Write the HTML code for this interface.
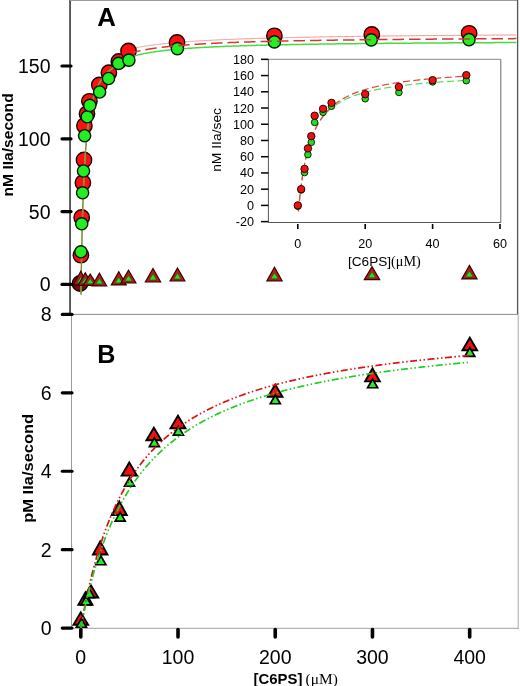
<!DOCTYPE html>
<html><head><meta charset="utf-8"><title>Figure</title><style>html,body{margin:0;padding:0;background:#fff;width:520px;height:686px;overflow:hidden;}</style></head><body>
<svg width="520" height="686" viewBox="0 0 520 686" font-family="&quot;Liberation Sans&quot;, sans-serif" style="display:block;will-change:transform">
<defs><clipPath id="ca"><rect x="70" y="0" width="448" height="314.4"/></clipPath><clipPath id="cah"><rect x="133" y="0" width="385" height="314.4"/></clipPath><clipPath id="cb"><rect x="71" y="314.4" width="447" height="314"/></clipPath><clipPath id="ci"><rect x="268.4" y="59.3" width="232.4" height="163.2"/></clipPath></defs>
<line x1="70.05" y1="0" x2="70.05" y2="314.5" stroke="#2a2a2a" stroke-width="1.5"/>
<line x1="70" y1="0.5" x2="518" y2="0.5" stroke="#9a9a9a" stroke-width="1"/>
<line x1="517.6" y1="0" x2="517.6" y2="314.5" stroke="#555" stroke-width="1.3"/>
<line x1="70" y1="314.4" x2="518" y2="314.4" stroke="#8a8a8a" stroke-width="1"/>
<line x1="71.5" y1="314.4" x2="71.5" y2="628.3" stroke="#9a9a9a" stroke-width="1"/>
<line x1="71.5" y1="628.3" x2="518.7" y2="628.3" stroke="#a0a0a0" stroke-width="1"/>
<line x1="518.2" y1="314.4" x2="518.2" y2="628.8" stroke="#a8a8a8" stroke-width="1"/>
<g clip-path="url(#ca)">
<path d="M80.97,292.06 L80.97,292.06 L80.98,292.06 L80.98,292.06 L80.98,292.06 L80.98,292.05 L80.98,292.05 L80.98,292.04 L80.98,292.03 L80.98,292.02 L80.98,292.00 L80.98,291.98 L80.98,291.96 L80.98,291.93 L80.98,291.90 L80.98,291.86 L80.98,291.82 L80.98,291.77 L80.98,291.72 L80.98,291.66 L80.98,291.59 L80.98,291.52 L80.98,291.43 L80.99,291.34 L80.99,291.25 L80.99,291.14 L80.99,291.03 L80.99,290.90 L80.99,290.77 L81.00,290.63 L81.00,290.48 L81.00,290.31 L81.00,290.14 L81.01,289.96 L81.01,289.76 L81.01,289.55 L81.01,289.34 L81.02,289.11 L81.02,288.86 L81.03,288.61 L81.03,288.34 L81.03,288.06 L81.04,287.76 L81.04,287.45 L81.05,287.13 L81.05,286.79 L81.06,286.44 L81.06,286.07 L81.07,285.69 L81.08,285.30 L81.08,284.89 L81.09,284.46 L81.09,284.02 L81.10,283.56 L81.11,283.09 L81.12,282.60 L81.12,282.09 L81.13,281.57 L81.14,281.03 L81.15,280.48 L81.16,279.90 L81.17,279.32 L81.18,278.71 L81.19,278.09 L81.20,277.45 L81.21,276.80 L81.22,276.12 L81.23,275.44 L81.24,274.73 L81.25,274.01 L81.27,273.27 L81.28,272.51 L81.29,271.74 L81.31,270.95 L81.32,270.14 L81.33,269.32 L81.35,268.48 L81.36,267.63 L81.38,266.76 L81.39,265.87 L81.41,264.97 L81.43,264.05 L81.44,263.11 L81.46,262.16 L81.48,261.20 L81.50,260.22 L81.52,259.22 L81.53,258.22 L81.55,257.19 L81.57,256.15 L81.59,255.10 L81.62,254.04 L81.64,252.96 L81.66,251.87 L81.68,250.77 L81.70,249.65 L81.73,248.52 L81.75,247.38 L81.78,246.23 L81.80,245.07 L81.83,243.89 L81.85,242.71 L81.88,241.51 L81.90,240.31 L81.93,239.09 L81.96,237.87 L81.99,236.64 L82.02,235.40 L82.05,234.15 L82.08,232.89 L82.11,231.63 L82.14,230.35 L82.17,229.08 L82.20,227.79 L82.23,226.50 L82.27,225.20 L82.30,223.90 L82.34,222.60 L82.37,221.28 L82.41,219.97 L82.44,218.65 L82.48,217.33 L82.52,216.00 L82.56,214.67 L82.60,213.34 L82.64,212.01 L82.68,210.67 L82.72,209.34 L82.76,208.00 L82.80,206.66 L82.84,205.32 L82.89,203.98 L82.93,202.65 L82.98,201.31 L83.02,199.97 L83.07,198.63 L83.11,197.30 L83.16,195.96 L83.21,194.63 L83.26,193.30 L83.31,191.98 L83.36,190.65 L83.41,189.33 L83.46,188.02 L83.51,186.70 L83.57,185.39 L83.62,184.08 L83.68,182.78 L83.73,181.49 L83.79,180.19 L83.84,178.90 L83.90,177.62 L83.96,176.34 L84.02,175.07 L84.08,173.80 L84.14,172.54 L84.20,171.29 L84.27,170.04 L84.33,168.80 L84.39,167.56 L84.46,166.33 L84.52,165.11 L84.59,163.89 L84.66,162.69 L84.73,161.48 L84.79,160.29 L84.86,159.10 L84.94,157.92 L85.01,156.75 L85.08,155.59 L85.15,154.43 L85.23,153.28 L85.30,152.14 L85.38,151.01 L85.45,149.88 L85.53,148.77 L85.61,147.66 L85.69,146.56 L85.77,145.46 L85.85,144.38 L85.93,143.30 L86.02,142.24 L86.10,141.18 L86.19,140.13 L86.27,139.09 L86.36,138.05 L86.45,137.03 L86.54,136.01 L86.63,135.00 L86.72,134.00 L86.81,133.01 L86.90,132.03 L86.99,131.06 L87.09,130.09 L87.18,129.13 L87.28,128.19 L87.38,127.25 L87.48,126.32 L87.58,125.39 L87.68,124.48 L87.78,123.57 L87.88,122.67 L87.98,121.78 L88.09,120.90 L88.19,120.03 L88.30,119.17 L88.41,118.31 L88.52,117.46 L88.63,116.62 L88.74,115.79 L88.85,114.97 L88.96,114.15 L89.08,113.34 L89.19,112.54 L89.31,111.75 L89.43,110.97 L89.54,110.19 L89.66,109.42 L89.78,108.66 L89.91,107.91 L90.03,107.16 L90.15,106.43 L90.28,105.70 L90.40,104.97 L90.53,104.26 L90.66,103.55 L90.79,102.85 L90.92,102.15 L91.05,101.47 L91.19,100.79 L91.32,100.11 L91.46,99.45 L91.59,98.79 L91.73,98.14 L91.87,97.49 L92.01,96.85 L92.15,96.22 L92.29,95.60 L92.44,94.98 L92.58,94.37 L92.73,93.76 L92.88,93.16 L93.03,92.57 L93.18,91.98 L93.33,91.40 L93.48,90.83 L93.63,90.26 L93.79,89.70 L93.95,89.14 L94.10,88.59 L94.26,88.05 L94.42,87.51 L94.58,86.97 L94.75,86.45 L94.91,85.93 L95.07,85.41 L95.24,84.90 L95.41,84.39 L95.58,83.89 L95.75,83.40 L95.92,82.91 L96.09,82.43 L96.27,81.95 L96.44,81.47 L96.62,81.01 L96.80,80.54 L96.98,80.08 L97.16,79.63 L97.34,79.18 L97.53,78.74 L97.71,78.30 L97.90,77.86 L98.09,77.43 L98.28,77.01 L98.47,76.59 L98.66,76.17 L98.85,75.76 L99.05,75.35 L99.24,74.95 L99.44,74.55 L99.64,74.15 L99.84,73.76 L100.04,73.38 L100.25,72.99 L100.45,72.62 L100.66,72.24 L100.87,71.87 L101.08,71.50 L101.29,71.14 L101.50,70.78 L101.71,70.43 L101.93,70.08 L102.15,69.73 L102.36,69.39 L102.58,69.05 L102.81,68.71 L103.03,68.38 L103.25,68.05 L103.48,67.72 L103.71,67.40 L103.93,67.08 L104.16,66.76 L104.40,66.45 L104.63,66.14 L104.86,65.83 L105.10,65.53 L105.34,65.23 L105.58,64.93 L105.82,64.64 L106.06,64.35 L106.31,64.06 L106.55,63.78 L106.80,63.50 L107.05,63.22 L107.30,62.94 L107.55,62.67 L107.81,62.40 L108.06,62.13 L108.32,61.87 L108.58,61.60 L108.84,61.35 L109.10,61.09 L109.36,60.83 L109.63,60.58 L109.90,60.33 L110.17,60.09 L110.44,59.84 L110.71,59.60 L110.98,59.36 L111.26,59.13 L111.53,58.89 L111.81,58.66 L112.09,58.43 L112.37,58.20 L112.66,57.98 L112.94,57.76 L113.23,57.54 L113.52,57.32 L113.81,57.10 L114.10,56.89 L114.40,56.68 L114.69,56.47 L114.99,56.26 L115.29,56.05 L115.59,55.84 L115.89,55.63 L116.20,55.42 L116.50,55.21 L116.81,55.01 L117.12,54.80 L117.43,54.59 L117.75,54.39 L118.06,54.19 L118.38,53.98 L118.70,53.78 L119.02,53.59 L119.34,53.39 L119.66,53.20 L119.99,53.01 L120.32,52.82 L120.65,52.63 L120.98,52.45 L121.31,52.27 L121.65,52.09 L121.99,51.91 L122.32,51.74 L122.67,51.57 L123.01,51.41 L123.35,51.25 L123.70,51.09 L124.05,50.94 L124.40,50.78 L124.75,50.64 L125.10,50.49 L125.46,50.35 L125.82,50.21 L126.18,50.08 L126.54,49.95 L126.90,49.82 L127.27,49.70 L127.63,49.58 L128.00,49.46 L128.38,49.35 L128.75,49.24 L129.12,49.13 L129.50,49.03 L129.88,48.93 L130.26,48.83 L130.64,48.74 L131.03,48.64 L131.42,48.55 L131.80,48.47 L132.20,48.38 L132.59,48.30 L132.98,48.22 L133.38,48.14 L133.78,48.06 L134.18,47.99 L134.58,47.91 L134.99,47.84 L135.40,47.76 L135.81,47.69 L136.22,47.62 L136.63,47.55 L137.05,47.48 L137.46,47.41 L137.88,47.33 L138.30,47.26 L138.73,47.19 L139.15,47.11 L139.58,47.04 L140.01,46.96 L140.44,46.89 L140.88,46.81 L141.31,46.74 L141.75,46.67 L142.19,46.59 L142.63,46.52 L143.08,46.45 L143.53,46.38 L143.97,46.30 L144.43,46.23 L144.88,46.16 L145.33,46.09 L145.79,46.02 L146.25,45.95 L146.71,45.88 L147.18,45.81 L147.64,45.74 L148.11,45.68 L148.58,45.61 L149.06,45.54 L149.53,45.47 L150.01,45.41 L150.49,45.34 L150.97,45.28 L151.45,45.21 L151.94,45.14 L152.43,45.08 L152.92,45.01 L153.41,44.95 L153.90,44.89 L154.40,44.82 L154.90,44.76 L155.40,44.70 L155.91,44.64 L156.41,44.57 L156.92,44.51 L157.43,44.45 L157.95,44.39 L158.46,44.33 L158.98,44.27 L159.50,44.21 L160.02,44.15 L160.55,44.09 L161.07,44.03 L161.60,43.97 L162.13,43.91 L162.67,43.85 L163.20,43.80 L163.74,43.74 L164.28,43.68 L164.83,43.63 L165.37,43.57 L165.92,43.51 L166.47,43.46 L167.02,43.40 L167.58,43.35 L168.14,43.29 L168.70,43.24 L169.26,43.18 L169.82,43.13 L170.39,43.07 L170.96,43.02 L171.53,42.97 L172.11,42.92 L172.68,42.86 L173.26,42.81 L173.84,42.76 L174.43,42.71 L175.02,42.66 L175.60,42.61 L176.20,42.55 L176.79,42.50 L177.39,42.45 L177.98,42.40 L178.59,42.35 L179.19,42.31 L179.80,42.26 L180.40,42.21 L181.02,42.16 L181.63,42.11 L182.25,42.06 L182.86,42.02 L183.49,41.97 L184.11,41.92 L184.74,41.87 L185.36,41.83 L186.00,41.78 L186.63,41.73 L187.27,41.69 L187.91,41.64 L188.55,41.60 L189.19,41.55 L189.84,41.51 L190.49,41.46 L191.14,41.42 L191.79,41.38 L192.45,41.33 L193.11,41.29 L193.77,41.24 L194.44,41.20 L195.10,41.16 L195.77,41.12 L196.45,41.07 L197.12,41.03 L197.80,40.99 L198.48,40.95 L199.16,40.91 L199.85,40.87 L200.54,40.83 L201.23,40.78 L201.92,40.74 L202.62,40.70 L203.32,40.66 L204.02,40.62 L204.73,40.58 L205.43,40.55 L206.14,40.51 L206.85,40.47 L207.57,40.43 L208.29,40.39 L209.01,40.35 L209.73,40.31 L210.46,40.28 L211.19,40.24 L211.92,40.20 L212.65,40.16 L213.39,40.13 L214.13,40.09 L214.87,40.05 L215.62,40.02 L216.37,39.98 L217.12,39.95 L217.87,39.91 L218.63,39.87 L219.38,39.84 L220.15,39.80 L220.91,39.77 L221.68,39.73 L222.45,39.70 L223.22,39.66 L224.00,39.63 L224.78,39.60 L225.56,39.56 L226.34,39.53 L227.13,39.50 L227.92,39.46 L228.71,39.43 L229.51,39.40 L230.31,39.36 L231.11,39.33 L231.91,39.30 L232.72,39.27 L233.53,39.24 L234.34,39.20 L235.16,39.17 L235.98,39.14 L236.80,39.11 L237.62,39.08 L238.45,39.05 L239.28,39.02 L240.11,38.99 L240.95,38.96 L241.79,38.93 L242.63,38.90 L243.48,38.87 L244.32,38.84 L245.17,38.81 L246.03,38.78 L246.89,38.75 L247.74,38.72 L248.61,38.69 L249.47,38.66 L250.34,38.63 L251.21,38.60 L252.09,38.58 L252.97,38.55 L253.85,38.52 L254.73,38.49 L255.62,38.46 L256.51,38.44 L257.40,38.41 L258.29,38.38 L259.19,38.35 L260.09,38.33 L261.00,38.30 L261.91,38.27 L262.82,38.25 L263.73,38.22 L264.65,38.19 L265.57,38.17 L266.49,38.14 L267.42,38.12 L268.34,38.09 L269.28,38.07 L270.21,38.04 L271.15,38.02 L272.09,37.99 L273.04,37.97 L273.98,37.94 L274.94,37.92 L275.89,37.89 L276.85,37.87 L277.81,37.84 L278.77,37.82 L279.74,37.79 L280.71,37.77 L281.68,37.75 L282.65,37.72 L283.63,37.70 L284.62,37.68 L285.60,37.65 L286.59,37.63 L287.58,37.61 L288.58,37.58 L289.57,37.56 L290.58,37.54 L291.58,37.52 L292.59,37.49 L293.60,37.47 L294.61,37.45 L295.63,37.43 L296.65,37.40 L297.67,37.38 L298.70,37.36 L299.73,37.34 L300.76,37.32 L301.80,37.30 L302.84,37.28 L303.88,37.25 L304.93,37.23 L305.98,37.21 L307.03,37.19 L308.09,37.17 L309.15,37.15 L310.21,37.13 L311.28,37.11 L312.35,37.09 L313.42,37.07 L314.50,37.05 L315.58,37.03 L316.66,37.01 L317.75,36.99 L318.84,36.97 L319.93,36.95 L321.02,36.93 L322.12,36.91 L323.23,36.89 L324.33,36.87 L325.44,36.85 L326.56,36.83 L327.67,36.82 L328.79,36.80 L329.91,36.78 L331.04,36.76 L332.17,36.74 L333.30,36.72 L334.44,36.70 L335.58,36.69 L336.72,36.67 L337.87,36.65 L339.02,36.63 L340.17,36.61 L341.33,36.60 L342.49,36.58 L343.66,36.56 L344.82,36.54 L345.99,36.53 L347.17,36.51 L348.35,36.49 L349.53,36.48 L350.71,36.46 L351.90,36.44 L353.09,36.42 L354.29,36.41 L355.49,36.39 L356.69,36.37 L357.90,36.36 L359.10,36.34 L360.32,36.33 L361.53,36.31 L362.75,36.29 L363.98,36.28 L365.20,36.26 L366.43,36.25 L367.67,36.23 L368.91,36.21 L370.15,36.20 L371.39,36.18 L372.64,36.17 L373.89,36.15 L375.15,36.14 L376.41,36.12 L377.67,36.11 L378.93,36.09 L380.20,36.08 L381.48,36.06 L382.75,36.05 L384.03,36.03 L385.32,36.02 L386.61,36.00 L387.90,35.99 L389.19,35.97 L390.49,35.96 L391.79,35.94 L393.10,35.93 L394.41,35.91 L395.72,35.90 L397.04,35.89 L398.36,35.87 L399.68,35.86 L401.01,35.84 L402.34,35.83 L403.68,35.82 L405.02,35.80 L406.36,35.79 L407.71,35.78 L409.06,35.76 L410.41,35.75 L411.77,35.74 L413.13,35.72 L414.50,35.71 L415.86,35.70 L417.24,35.68 L418.61,35.67 L419.99,35.66 L421.38,35.64 L422.76,35.63 L424.16,35.62 L425.55,35.60 L426.95,35.59 L428.35,35.58 L429.76,35.57 L431.17,35.55 L432.58,35.54 L434.00,35.53 L435.42,35.52 L436.85,35.51 L438.28,35.49 L439.71,35.48 L441.15,35.47 L442.59,35.46 L444.03,35.44 L445.48,35.43 L446.93,35.42 L448.39,35.41 L449.85,35.40 L451.31,35.39 L452.78,35.37 L454.25,35.36 L455.73,35.35 L457.21,35.34 L458.69,35.33 L460.18,35.32 L461.67,35.31 L463.16,35.29 L464.66,35.28 L466.16,35.27 L467.67,35.26 L469.18,35.25 L470.69,35.24 L472.21,35.23 L473.74,35.22 L475.26,35.21 L476.79,35.20 L478.33,35.18 L479.86,35.17 L481.41,35.16 L482.95,35.15 L484.50,35.14 L486.06,35.13 L487.61,35.12 L489.18,35.11 L490.74,35.10 L492.31,35.09 L493.89,35.08 L495.46,35.07 L497.05,35.06 L498.63,35.05 L500.22,35.04 L501.82,35.03 L503.41,35.02 L505.02,35.01 L506.62,35.00 L508.23,34.99 L509.85,34.98 L511.47,34.97 L513.09,34.96 L514.72,34.95 L516.35,34.94" fill="none" stroke="#f09090" stroke-width="1.0" clip-path="url(#cah)"/>
<circle cx="80.0" cy="283.5" r="7.7" fill="#6a1010" stroke="#1a0000" stroke-width="1.4"/>
<circle cx="80.9" cy="255.2" r="7.7" fill="#ff1010" stroke="#1a0000" stroke-width="1.4"/>
<circle cx="81.7" cy="217.4" r="7.7" fill="#ff1010" stroke="#1a0000" stroke-width="1.4"/>
<circle cx="82.9" cy="182.8" r="7.7" fill="#ff1010" stroke="#1a0000" stroke-width="1.4"/>
<circle cx="84.0" cy="160.0" r="7.7" fill="#ff1010" stroke="#1a0000" stroke-width="1.4"/>
<circle cx="84.4" cy="125.7" r="7.7" fill="#ff1010" stroke="#1a0000" stroke-width="1.4"/>
<circle cx="87.0" cy="113.8" r="7.7" fill="#ff1010" stroke="#1a0000" stroke-width="1.4"/>
<circle cx="89.4" cy="101.3" r="7.7" fill="#ff1010" stroke="#1a0000" stroke-width="1.4"/>
<circle cx="99.3" cy="85.0" r="7.7" fill="#ff1010" stroke="#1a0000" stroke-width="1.4"/>
<circle cx="108.9" cy="72.7" r="7.7" fill="#ff1010" stroke="#1a0000" stroke-width="1.4"/>
<circle cx="118.8" cy="61.4" r="7.7" fill="#ff1010" stroke="#1a0000" stroke-width="1.4"/>
<circle cx="128.5" cy="51.0" r="7.7" fill="#ff1010" stroke="#1a0000" stroke-width="1.4"/>
<circle cx="177.0" cy="42.4" r="7.7" fill="#ff1010" stroke="#1a0000" stroke-width="1.4"/>
<circle cx="274.4" cy="35.8" r="7.7" fill="#ff1010" stroke="#1a0000" stroke-width="1.4"/>
<circle cx="371.8" cy="34.5" r="7.7" fill="#ff1010" stroke="#1a0000" stroke-width="1.4"/>
<circle cx="469.1" cy="33.3" r="7.7" fill="#ff1010" stroke="#1a0000" stroke-width="1.4"/>
<path d="M80.97,294.61 L80.97,294.61 L80.98,294.61 L80.98,294.61 L80.98,294.61 L80.98,294.61 L80.98,294.60 L80.98,294.59 L80.98,294.58 L80.98,294.57 L80.98,294.55 L80.98,294.53 L80.98,294.51 L80.98,294.48 L80.98,294.44 L80.98,294.40 L80.98,294.36 L80.98,294.31 L80.98,294.25 L80.98,294.19 L80.98,294.12 L80.98,294.04 L80.98,293.95 L80.99,293.86 L80.99,293.76 L80.99,293.65 L80.99,293.52 L80.99,293.39 L80.99,293.25 L81.00,293.10 L81.00,292.94 L81.00,292.77 L81.00,292.59 L81.01,292.40 L81.01,292.19 L81.01,291.97 L81.01,291.74 L81.02,291.50 L81.02,291.24 L81.03,290.97 L81.03,290.69 L81.03,290.39 L81.04,290.08 L81.04,289.76 L81.05,289.42 L81.05,289.07 L81.06,288.70 L81.06,288.31 L81.07,287.91 L81.08,287.50 L81.08,287.06 L81.09,286.62 L81.09,286.15 L81.10,285.67 L81.11,285.18 L81.12,284.67 L81.12,284.14 L81.13,283.59 L81.14,283.03 L81.15,282.45 L81.16,281.85 L81.17,281.23 L81.18,280.60 L81.19,279.95 L81.20,279.29 L81.21,278.60 L81.22,277.90 L81.23,277.19 L81.24,276.45 L81.25,275.70 L81.27,274.93 L81.28,274.15 L81.29,273.34 L81.31,272.52 L81.32,271.69 L81.33,270.83 L81.35,269.96 L81.36,269.08 L81.38,268.18 L81.39,267.26 L81.41,266.33 L81.43,265.38 L81.44,264.41 L81.46,263.43 L81.48,262.44 L81.50,261.43 L81.52,260.41 L81.53,259.37 L81.55,258.32 L81.57,257.25 L81.59,256.17 L81.62,255.08 L81.64,253.98 L81.66,252.86 L81.68,251.73 L81.70,250.59 L81.73,249.44 L81.75,248.28 L81.78,247.10 L81.80,245.92 L81.83,244.72 L81.85,243.52 L81.88,242.31 L81.90,241.08 L81.93,239.85 L81.96,238.61 L81.99,237.37 L82.02,236.11 L82.05,234.85 L82.08,233.58 L82.11,232.31 L82.14,231.03 L82.17,229.74 L82.20,228.45 L82.23,227.15 L82.27,225.85 L82.30,224.55 L82.34,223.24 L82.37,221.93 L82.41,220.62 L82.44,219.30 L82.48,217.98 L82.52,216.66 L82.56,215.34 L82.60,214.01 L82.64,212.69 L82.68,211.36 L82.72,210.04 L82.76,208.72 L82.80,207.39 L82.84,206.07 L82.89,204.75 L82.93,203.43 L82.98,202.11 L83.02,200.79 L83.07,199.48 L83.11,198.16 L83.16,196.86 L83.21,195.55 L83.26,194.25 L83.31,192.95 L83.36,191.66 L83.41,190.37 L83.46,189.08 L83.51,187.80 L83.57,186.52 L83.62,185.25 L83.68,183.99 L83.73,182.73 L83.79,181.47 L83.84,180.23 L83.90,178.98 L83.96,177.75 L84.02,176.52 L84.08,175.30 L84.14,174.08 L84.20,172.87 L84.27,171.67 L84.33,170.47 L84.39,169.28 L84.46,168.10 L84.52,166.93 L84.59,165.77 L84.66,164.61 L84.73,163.46 L84.79,162.32 L84.86,161.18 L84.94,160.06 L85.01,158.94 L85.08,157.83 L85.15,156.73 L85.23,155.64 L85.30,154.55 L85.38,153.48 L85.45,152.41 L85.53,151.35 L85.61,150.30 L85.69,149.26 L85.77,148.23 L85.85,147.21 L85.93,146.19 L86.02,145.18 L86.10,144.19 L86.19,143.20 L86.27,142.22 L86.36,141.24 L86.45,140.28 L86.54,139.33 L86.63,138.38 L86.72,137.44 L86.81,136.51 L86.90,135.59 L86.99,134.68 L87.09,133.78 L87.18,132.89 L87.28,132.00 L87.38,131.12 L87.48,130.26 L87.58,129.40 L87.68,128.55 L87.78,127.70 L87.88,126.87 L87.98,126.04 L88.09,125.22 L88.19,124.41 L88.30,123.61 L88.41,122.82 L88.52,122.03 L88.63,121.25 L88.74,120.48 L88.85,119.72 L88.96,118.97 L89.08,118.22 L89.19,117.48 L89.31,116.75 L89.43,116.03 L89.54,115.32 L89.66,114.61 L89.78,113.91 L89.91,113.22 L90.03,112.53 L90.15,111.85 L90.28,111.18 L90.40,110.52 L90.53,109.86 L90.66,109.21 L90.79,108.57 L90.92,107.93 L91.05,107.30 L91.19,106.68 L91.32,106.06 L91.46,105.46 L91.59,104.85 L91.73,104.26 L91.87,103.67 L92.01,103.09 L92.15,102.51 L92.29,101.94 L92.44,101.38 L92.58,100.82 L92.73,100.27 L92.88,99.72 L93.03,99.18 L93.18,98.65 L93.33,98.12 L93.48,97.60 L93.63,97.08 L93.79,96.57 L93.95,96.07 L94.10,95.57 L94.26,95.07 L94.42,94.59 L94.58,94.10 L94.75,93.63 L94.91,93.15 L95.07,92.69 L95.24,92.22 L95.41,91.77 L95.58,91.31 L95.75,90.87 L95.92,90.43 L96.09,89.99 L96.27,89.56 L96.44,89.13 L96.62,88.71 L96.80,88.29 L96.98,87.87 L97.16,87.47 L97.34,87.06 L97.53,86.66 L97.71,86.26 L97.90,85.87 L98.09,85.49 L98.28,85.10 L98.47,84.72 L98.66,84.35 L98.85,83.98 L99.05,83.61 L99.24,83.25 L99.44,82.89 L99.64,82.54 L99.84,82.19 L100.04,81.84 L100.25,81.50 L100.45,81.16 L100.66,80.82 L100.87,80.49 L101.08,80.16 L101.29,79.84 L101.50,79.52 L101.71,79.20 L101.93,78.88 L102.15,78.57 L102.36,78.27 L102.58,77.96 L102.81,77.66 L103.03,77.36 L103.25,77.07 L103.48,76.78 L103.71,76.49 L103.93,76.20 L104.16,75.92 L104.40,75.64 L104.63,75.37 L104.86,75.09 L105.10,74.82 L105.34,74.55 L105.58,74.29 L105.82,74.03 L106.06,73.77 L106.31,73.51 L106.55,73.26 L106.80,73.01 L107.05,72.76 L107.30,72.51 L107.55,72.27 L107.81,72.03 L108.06,71.79 L108.32,71.56 L108.58,71.32 L108.84,71.09 L109.10,70.86 L109.36,70.64 L109.63,70.41 L109.90,70.19 L110.17,69.97 L110.44,69.76 L110.71,69.54 L110.98,69.33 L111.26,69.12 L111.53,68.91 L111.81,68.71 L112.09,68.50 L112.37,68.30 L112.66,68.10 L112.94,67.90 L113.23,67.71 L113.52,67.51 L113.81,67.32 L114.10,67.13 L114.40,66.94 L114.69,66.76 L114.99,66.57 L115.29,66.39 L115.59,66.20 L115.89,66.02 L116.20,65.83 L116.50,65.65 L116.81,65.46 L117.12,65.27 L117.43,65.08 L117.75,64.90 L118.06,64.71 L118.38,64.52 L118.70,64.33 L119.02,64.14 L119.34,63.95 L119.66,63.75 L119.99,63.56 L120.32,63.37 L120.65,63.18 L120.98,62.98 L121.31,62.79 L121.65,62.59 L121.99,62.40 L122.32,62.20 L122.67,62.01 L123.01,61.81 L123.35,61.62 L123.70,61.42 L124.05,61.22 L124.40,61.03 L124.75,60.83 L125.10,60.64 L125.46,60.44 L125.82,60.24 L126.18,60.05 L126.54,59.86 L126.90,59.66 L127.27,59.47 L127.63,59.28 L128.00,59.08 L128.38,58.89 L128.75,58.70 L129.12,58.52 L129.50,58.33 L129.88,58.14 L130.26,57.96 L130.64,57.78 L131.03,57.60 L131.42,57.42 L131.80,57.25 L132.20,57.07 L132.59,56.90 L132.98,56.73 L133.38,56.57 L133.78,56.41 L134.18,56.25 L134.58,56.09 L134.99,55.94 L135.40,55.79 L135.81,55.65 L136.22,55.51 L136.63,55.38 L137.05,55.25 L137.46,55.12 L137.88,55.00 L138.30,54.89 L138.73,54.78 L139.15,54.67 L139.58,54.58 L140.01,54.48 L140.44,54.38 L140.88,54.28 L141.31,54.19 L141.75,54.09 L142.19,54.00 L142.63,53.91 L143.08,53.81 L143.53,53.72 L143.97,53.63 L144.43,53.54 L144.88,53.45 L145.33,53.36 L145.79,53.28 L146.25,53.19 L146.71,53.10 L147.18,53.02 L147.64,52.93 L148.11,52.85 L148.58,52.77 L149.06,52.69 L149.53,52.61 L150.01,52.52 L150.49,52.44 L150.97,52.37 L151.45,52.29 L151.94,52.21 L152.43,52.13 L152.92,52.06 L153.41,51.98 L153.90,51.90 L154.40,51.83 L154.90,51.76 L155.40,51.68 L155.91,51.61 L156.41,51.54 L156.92,51.47 L157.43,51.40 L157.95,51.33 L158.46,51.26 L158.98,51.19 L159.50,51.12 L160.02,51.05 L160.55,50.98 L161.07,50.92 L161.60,50.85 L162.13,50.78 L162.67,50.72 L163.20,50.66 L163.74,50.59 L164.28,50.53 L164.83,50.47 L165.37,50.40 L165.92,50.34 L166.47,50.28 L167.02,50.22 L167.58,50.16 L168.14,50.10 L168.70,50.04 L169.26,49.98 L169.82,49.92 L170.39,49.86 L170.96,49.81 L171.53,49.75 L172.11,49.69 L172.68,49.64 L173.26,49.58 L173.84,49.53 L174.43,49.47 L175.02,49.42 L175.60,49.36 L176.20,49.31 L176.79,49.26 L177.39,49.20 L177.98,49.15 L178.59,49.10 L179.19,49.05 L179.80,49.00 L180.40,48.95 L181.02,48.90 L181.63,48.85 L182.25,48.80 L182.86,48.75 L183.49,48.70 L184.11,48.65 L184.74,48.61 L185.36,48.56 L186.00,48.51 L186.63,48.47 L187.27,48.42 L187.91,48.37 L188.55,48.33 L189.19,48.28 L189.84,48.24 L190.49,48.19 L191.14,48.15 L191.79,48.10 L192.45,48.06 L193.11,48.02 L193.77,47.97 L194.44,47.93 L195.10,47.89 L195.77,47.85 L196.45,47.81 L197.12,47.77 L197.80,47.72 L198.48,47.68 L199.16,47.64 L199.85,47.60 L200.54,47.56 L201.23,47.52 L201.92,47.48 L202.62,47.45 L203.32,47.41 L204.02,47.37 L204.73,47.33 L205.43,47.29 L206.14,47.26 L206.85,47.22 L207.57,47.18 L208.29,47.15 L209.01,47.11 L209.73,47.07 L210.46,47.04 L211.19,47.00 L211.92,46.97 L212.65,46.93 L213.39,46.90 L214.13,46.86 L214.87,46.83 L215.62,46.79 L216.37,46.76 L217.12,46.73 L217.87,46.69 L218.63,46.66 L219.38,46.63 L220.15,46.59 L220.91,46.56 L221.68,46.53 L222.45,46.50 L223.22,46.47 L224.00,46.43 L224.78,46.40 L225.56,46.37 L226.34,46.34 L227.13,46.31 L227.92,46.28 L228.71,46.25 L229.51,46.22 L230.31,46.19 L231.11,46.16 L231.91,46.13 L232.72,46.10 L233.53,46.07 L234.34,46.04 L235.16,46.02 L235.98,45.99 L236.80,45.96 L237.62,45.93 L238.45,45.90 L239.28,45.88 L240.11,45.85 L240.95,45.82 L241.79,45.80 L242.63,45.77 L243.48,45.74 L244.32,45.72 L245.17,45.69 L246.03,45.66 L246.89,45.64 L247.74,45.61 L248.61,45.59 L249.47,45.56 L250.34,45.53 L251.21,45.51 L252.09,45.48 L252.97,45.46 L253.85,45.44 L254.73,45.41 L255.62,45.39 L256.51,45.36 L257.40,45.34 L258.29,45.32 L259.19,45.29 L260.09,45.27 L261.00,45.24 L261.91,45.22 L262.82,45.20 L263.73,45.18 L264.65,45.15 L265.57,45.13 L266.49,45.11 L267.42,45.09 L268.34,45.06 L269.28,45.04 L270.21,45.02 L271.15,45.00 L272.09,44.98 L273.04,44.96 L273.98,44.93 L274.94,44.91 L275.89,44.89 L276.85,44.87 L277.81,44.85 L278.77,44.83 L279.74,44.81 L280.71,44.79 L281.68,44.77 L282.65,44.75 L283.63,44.73 L284.62,44.71 L285.60,44.69 L286.59,44.67 L287.58,44.65 L288.58,44.63 L289.57,44.61 L290.58,44.59 L291.58,44.57 L292.59,44.56 L293.60,44.54 L294.61,44.52 L295.63,44.50 L296.65,44.48 L297.67,44.46 L298.70,44.44 L299.73,44.43 L300.76,44.41 L301.80,44.39 L302.84,44.37 L303.88,44.36 L304.93,44.34 L305.98,44.32 L307.03,44.30 L308.09,44.29 L309.15,44.27 L310.21,44.25 L311.28,44.24 L312.35,44.22 L313.42,44.20 L314.50,44.19 L315.58,44.17 L316.66,44.15 L317.75,44.14 L318.84,44.12 L319.93,44.10 L321.02,44.09 L322.12,44.07 L323.23,44.06 L324.33,44.04 L325.44,44.03 L326.56,44.01 L327.67,43.99 L328.79,43.98 L329.91,43.96 L331.04,43.95 L332.17,43.93 L333.30,43.92 L334.44,43.90 L335.58,43.89 L336.72,43.87 L337.87,43.86 L339.02,43.85 L340.17,43.83 L341.33,43.82 L342.49,43.80 L343.66,43.79 L344.82,43.77 L345.99,43.76 L347.17,43.75 L348.35,43.73 L349.53,43.72 L350.71,43.70 L351.90,43.69 L353.09,43.68 L354.29,43.66 L355.49,43.65 L356.69,43.64 L357.90,43.62 L359.10,43.61 L360.32,43.60 L361.53,43.59 L362.75,43.57 L363.98,43.56 L365.20,43.55 L366.43,43.53 L367.67,43.52 L368.91,43.51 L370.15,43.50 L371.39,43.48 L372.64,43.47 L373.89,43.46 L375.15,43.45 L376.41,43.43 L377.67,43.42 L378.93,43.41 L380.20,43.40 L381.48,43.39 L382.75,43.38 L384.03,43.36 L385.32,43.35 L386.61,43.34 L387.90,43.33 L389.19,43.32 L390.49,43.31 L391.79,43.29 L393.10,43.28 L394.41,43.27 L395.72,43.26 L397.04,43.25 L398.36,43.24 L399.68,43.23 L401.01,43.22 L402.34,43.21 L403.68,43.20 L405.02,43.18 L406.36,43.17 L407.71,43.16 L409.06,43.15 L410.41,43.14 L411.77,43.13 L413.13,43.12 L414.50,43.11 L415.86,43.10 L417.24,43.09 L418.61,43.08 L419.99,43.07 L421.38,43.06 L422.76,43.05 L424.16,43.04 L425.55,43.03 L426.95,43.02 L428.35,43.01 L429.76,43.00 L431.17,42.99 L432.58,42.98 L434.00,42.97 L435.42,42.96 L436.85,42.95 L438.28,42.94 L439.71,42.93 L441.15,42.92 L442.59,42.92 L444.03,42.91 L445.48,42.90 L446.93,42.89 L448.39,42.88 L449.85,42.87 L451.31,42.86 L452.78,42.85 L454.25,42.84 L455.73,42.83 L457.21,42.82 L458.69,42.82 L460.18,42.81 L461.67,42.80 L463.16,42.79 L464.66,42.78 L466.16,42.77 L467.67,42.76 L469.18,42.76 L470.69,42.75 L472.21,42.74 L473.74,42.73 L475.26,42.72 L476.79,42.71 L478.33,42.71 L479.86,42.70 L481.41,42.69 L482.95,42.68 L484.50,42.67 L486.06,42.67 L487.61,42.66 L489.18,42.65 L490.74,42.64 L492.31,42.63 L493.89,42.63 L495.46,42.62 L497.05,42.61 L498.63,42.60 L500.22,42.60 L501.82,42.59 L503.41,42.58 L505.02,42.57 L506.62,42.57 L508.23,42.56 L509.85,42.55 L511.47,42.54 L513.09,42.54 L514.72,42.53 L516.35,42.52" fill="none" stroke="#44dd44" stroke-width="1.5"/>
<path d="M80.97,294.61 L80.97,294.61 L80.98,294.61 L80.98,294.61 L80.98,294.61 L80.98,294.60 L80.98,294.59 L80.98,294.57 L80.98,294.55 L80.98,294.52 L80.98,294.48 L80.98,294.44 L80.98,294.39 L80.98,294.33 L80.98,294.25 L80.98,294.17 L80.98,294.08 L80.98,293.97 L80.99,293.85 L80.99,293.72 L80.99,293.57 L80.99,293.40 L80.99,293.22 L81.00,293.03 L81.00,292.81 L81.00,292.58 L81.01,292.33 L81.01,292.06 L81.01,291.76 L81.02,291.45 L81.02,291.12 L81.03,290.76 L81.03,290.38 L81.04,289.98 L81.05,289.56 L81.05,289.11 L81.06,288.63 L81.07,288.13 L81.07,287.61 L81.08,287.06 L81.09,286.48 L81.10,285.88 L81.11,285.25 L81.12,284.59 L81.13,283.90 L81.14,283.19 L81.15,282.45 L81.16,281.68 L81.17,280.88 L81.19,280.06 L81.20,279.20 L81.21,278.32 L81.23,277.41 L81.24,276.47 L81.26,275.50 L81.27,274.51 L81.29,273.49 L81.31,272.44 L81.33,271.36 L81.34,270.25 L81.36,269.12 L81.38,267.96 L81.40,266.78 L81.42,265.57 L81.45,264.33 L81.47,263.07 L81.49,261.79 L81.51,260.48 L81.54,259.15 L81.56,257.79 L81.59,256.41 L81.62,255.02 L81.64,253.60 L81.67,252.16 L81.70,250.70 L81.73,249.22 L81.76,247.72 L81.79,246.21 L81.83,244.68 L81.86,243.13 L81.89,241.57 L81.93,239.99 L81.96,238.40 L82.00,236.80 L82.04,235.19 L82.08,233.56 L82.12,231.93 L82.16,230.28 L82.20,228.63 L82.24,226.97 L82.28,225.30 L82.33,223.62 L82.37,221.94 L82.42,220.25 L82.46,218.56 L82.51,216.87 L82.56,215.17 L82.61,213.48 L82.66,211.78 L82.72,210.08 L82.77,208.38 L82.82,206.68 L82.88,204.99 L82.94,203.29 L82.99,201.60 L83.05,199.91 L83.11,198.23 L83.17,196.55 L83.23,194.88 L83.30,193.22 L83.36,191.55 L83.43,189.90 L83.50,188.26 L83.56,186.62 L83.63,184.99 L83.70,183.37 L83.78,181.76 L83.85,180.16 L83.92,178.56 L84.00,176.98 L84.07,175.41 L84.15,173.85 L84.23,172.31 L84.31,170.77 L84.40,169.24 L84.48,167.73 L84.56,166.23 L84.65,164.75 L84.74,163.27 L84.83,161.81 L84.92,160.36 L85.01,158.93 L85.10,157.51 L85.20,156.10 L85.29,154.71 L85.39,153.33 L85.49,151.96 L85.59,150.61 L85.69,149.27 L85.79,147.95 L85.90,146.64 L86.00,145.35 L86.11,144.07 L86.22,142.80 L86.33,141.55 L86.44,140.31 L86.56,139.09 L86.67,137.88 L86.79,136.69 L86.91,135.51 L87.03,134.34 L87.15,133.19 L87.27,132.05 L87.40,130.93 L87.53,129.82 L87.66,128.72 L87.79,127.64 L87.92,126.57 L88.05,125.52 L88.19,124.47 L88.32,123.45 L88.46,122.43 L88.60,121.43 L88.74,120.44 L88.89,119.47 L89.03,118.51 L89.18,117.56 L89.33,116.62 L89.48,115.70 L89.63,114.79 L89.79,113.89 L89.94,113.00 L90.10,112.12 L90.26,111.26 L90.43,110.41 L90.59,109.57 L90.75,108.74 L90.92,107.93 L91.09,107.12 L91.26,106.33 L91.44,105.54 L91.61,104.77 L91.79,104.01 L91.97,103.26 L92.15,102.52 L92.33,101.79 L92.52,101.07 L92.71,100.36 L92.89,99.66 L93.09,98.97 L93.28,98.29 L93.47,97.62 L93.67,96.96 L93.87,96.30 L94.07,95.66 L94.28,95.03 L94.48,94.40 L94.69,93.79 L94.90,93.18 L95.11,92.58 L95.33,91.99 L95.54,91.41 L95.76,90.84 L95.98,90.27 L96.20,89.71 L96.43,89.16 L96.66,88.62 L96.89,88.09 L97.12,87.56 L97.35,87.04 L97.59,86.53 L97.83,86.02 L98.07,85.53 L98.31,85.04 L98.56,84.55 L98.80,84.07 L99.05,83.60 L99.31,83.14 L99.56,82.68 L99.82,82.23 L100.08,81.79 L100.34,81.35 L100.60,80.92 L100.87,80.49 L101.14,80.07 L101.41,79.65 L101.68,79.25 L101.96,78.84 L102.24,78.44 L102.52,78.05 L102.80,77.67 L103.09,77.28 L103.38,76.91 L103.67,76.54 L103.96,76.17 L104.26,75.81 L104.55,75.45 L104.86,75.10 L105.16,74.76 L105.47,74.41 L105.77,74.08 L106.08,73.74 L106.40,73.42 L106.72,73.09 L107.03,72.77 L107.36,72.46 L107.68,72.15 L108.01,71.84 L108.34,71.54 L108.67,71.24 L109.00,70.95 L109.34,70.66 L109.68,70.37 L110.03,70.09 L110.37,69.81 L110.72,69.53 L111.07,69.26 L111.43,68.99 L111.78,68.73 L112.14,68.47 L112.50,68.21 L112.87,67.95 L113.24,67.70 L113.61,67.45 L113.98,67.21 L114.36,66.97 L114.74,66.73 L115.12,66.49 L115.51,66.26 L115.89,66.03 L116.28,65.81 L116.68,65.58 L117.07,65.36 L117.47,65.14 L117.88,64.93 L118.28,64.72 L118.69,64.51 L119.10,64.30 L119.52,64.10 L119.93,63.89 L120.35,63.69 L120.78,63.50 L121.20,63.30 L121.63,63.11 L122.07,62.92 L122.50,62.73 L122.94,62.55 L123.38,62.37 L123.83,62.19 L124.28,62.01 L124.73,61.83 L125.18,61.66 L125.64,61.49 L126.10,61.32 L126.56,61.15 L127.03,60.98 L127.50,60.82 L127.97,60.66 L128.45,60.50 L128.93,60.34 L129.41,60.18" fill="none" stroke="#c06048" stroke-width="1.0"/>
<circle cx="80.9" cy="251.8" r="6.1" fill="#22ee22" stroke="#001800" stroke-width="1.4"/>
<circle cx="81.7" cy="223.8" r="6.1" fill="#22ee22" stroke="#001800" stroke-width="1.4"/>
<circle cx="82.6" cy="192.8" r="6.1" fill="#22ee22" stroke="#001800" stroke-width="1.4"/>
<circle cx="83.5" cy="171.0" r="6.1" fill="#22ee22" stroke="#001800" stroke-width="1.4"/>
<circle cx="84.6" cy="135.7" r="6.1" fill="#22ee22" stroke="#001800" stroke-width="1.4"/>
<circle cx="87.2" cy="116.8" r="6.1" fill="#22ee22" stroke="#001800" stroke-width="1.4"/>
<circle cx="89.8" cy="105.4" r="6.1" fill="#22ee22" stroke="#001800" stroke-width="1.4"/>
<circle cx="99.6" cy="92.0" r="6.1" fill="#22ee22" stroke="#001800" stroke-width="1.4"/>
<circle cx="108.5" cy="78.5" r="6.1" fill="#22ee22" stroke="#001800" stroke-width="1.4"/>
<circle cx="118.5" cy="63.4" r="6.1" fill="#22ee22" stroke="#001800" stroke-width="1.4"/>
<circle cx="128.9" cy="60.1" r="6.1" fill="#22ee22" stroke="#001800" stroke-width="1.4"/>
<circle cx="177.4" cy="48.6" r="6.1" fill="#22ee22" stroke="#001800" stroke-width="1.4"/>
<circle cx="274.4" cy="41.9" r="6.1" fill="#22ee22" stroke="#001800" stroke-width="1.4"/>
<circle cx="371.3" cy="39.85" r="6.1" fill="#22ee22" stroke="#001800" stroke-width="1.4"/>
<circle cx="469.0" cy="39.6" r="6.1" fill="#22ee22" stroke="#001800" stroke-width="1.4"/>
<path d="M80.97,295.56 L80.97,295.56 L80.98,295.56 L80.98,295.55 L80.98,295.55 L80.98,295.55 L80.98,295.54 L80.98,295.54 L80.98,295.53 L80.98,295.51 L80.98,295.50 L80.98,295.48 L80.98,295.45 L80.98,295.43 L80.98,295.39 L80.98,295.36 L80.98,295.31 L80.98,295.27 L80.98,295.21 L80.98,295.15 L80.98,295.08 L80.98,295.01 L80.98,294.93 L80.99,294.84 L80.99,294.74 L80.99,294.64 L80.99,294.52 L80.99,294.40 L80.99,294.27 L81.00,294.12 L81.00,293.97 L81.00,293.81 L81.00,293.64 L81.01,293.45 L81.01,293.26 L81.01,293.05 L81.01,292.83 L81.02,292.60 L81.02,292.36 L81.03,292.10 L81.03,291.83 L81.03,291.55 L81.04,291.25 L81.04,290.95 L81.05,290.62 L81.05,290.29 L81.06,289.93 L81.06,289.57 L81.07,289.19 L81.08,288.79 L81.08,288.38 L81.09,287.95 L81.09,287.51 L81.10,287.05 L81.11,286.58 L81.12,286.09 L81.12,285.58 L81.13,285.06 L81.14,284.52 L81.15,283.97 L81.16,283.40 L81.17,282.81 L81.18,282.21 L81.19,281.58 L81.20,280.95 L81.21,280.29 L81.22,279.62 L81.23,278.93 L81.24,278.22 L81.25,277.50 L81.27,276.76 L81.28,276.01 L81.29,275.23 L81.31,274.44 L81.32,273.64 L81.33,272.82 L81.35,271.98 L81.36,271.12 L81.38,270.25 L81.39,269.36 L81.41,268.46 L81.43,267.54 L81.44,266.61 L81.46,265.66 L81.48,264.69 L81.50,263.71 L81.52,262.72 L81.53,261.71 L81.55,260.69 L81.57,259.65 L81.59,258.60 L81.62,257.53 L81.64,256.45 L81.66,255.36 L81.68,254.26 L81.70,253.14 L81.73,252.01 L81.75,250.87 L81.78,249.72 L81.80,248.56 L81.83,247.39 L81.85,246.20 L81.88,245.01 L81.90,243.80 L81.93,242.59 L81.96,241.36 L81.99,240.13 L82.02,238.89 L82.05,237.64 L82.08,236.38 L82.11,235.12 L82.14,233.85 L82.17,232.57 L82.20,231.29 L82.23,229.99 L82.27,228.70 L82.30,227.40 L82.34,226.09 L82.37,224.78 L82.41,223.46 L82.44,222.14 L82.48,220.82 L82.52,219.50 L82.56,218.17 L82.60,216.84 L82.64,215.50 L82.68,214.17 L82.72,212.83 L82.76,211.49 L82.80,210.16 L82.84,208.82 L82.89,207.48 L82.93,206.14 L82.98,204.80 L83.02,203.46 L83.07,202.13 L83.11,200.79 L83.16,199.46 L83.21,198.13 L83.26,196.80 L83.31,195.47 L83.36,194.15 L83.41,192.83 L83.46,191.51 L83.51,190.20 L83.57,188.89 L83.62,187.58 L83.68,186.28 L83.73,184.98 L83.79,183.69 L83.84,182.40 L83.90,181.12 L83.96,179.84 L84.02,178.57 L84.08,177.30 L84.14,176.04 L84.20,174.78 L84.27,173.53 L84.33,172.29 L84.39,171.06 L84.46,169.83 L84.52,168.60 L84.59,167.39 L84.66,166.18 L84.73,164.98 L84.79,163.78 L84.86,162.60 L84.94,161.42 L85.01,160.25 L85.08,159.08 L85.15,157.92 L85.23,156.78 L85.30,155.63 L85.38,154.50 L85.45,153.38 L85.53,152.26 L85.61,151.15 L85.69,150.05 L85.77,148.96 L85.85,147.87 L85.93,146.80 L86.02,145.73 L86.10,144.67 L86.19,143.62 L86.27,142.58 L86.36,141.55 L86.45,140.52 L86.54,139.51 L86.63,138.50 L86.72,137.50 L86.81,136.51 L86.90,135.52 L86.99,134.55 L87.09,133.59 L87.18,132.63 L87.28,131.68 L87.38,130.74 L87.48,129.81 L87.58,128.89 L87.68,127.97 L87.78,127.07 L87.88,126.17 L87.98,125.28 L88.09,124.40 L88.19,123.53 L88.30,122.66 L88.41,121.81 L88.52,120.96 L88.63,120.12 L88.74,119.29 L88.85,118.46 L88.96,117.65 L89.08,116.84 L89.19,116.04 L89.31,115.25 L89.43,114.46 L89.54,113.69 L89.66,112.92 L89.78,112.16 L89.91,111.40 L90.03,110.66 L90.15,109.92 L90.28,109.19 L90.40,108.47 L90.53,107.75 L90.66,107.04 L90.79,106.34 L90.92,105.65 L91.05,104.96 L91.19,104.28 L91.32,103.61 L91.46,102.94 L91.59,102.28 L91.73,101.63 L91.87,100.99 L92.01,100.35 L92.15,99.72 L92.29,99.09 L92.44,98.47 L92.58,97.86 L92.73,97.26 L92.88,96.66 L93.03,96.06 L93.18,95.48 L93.33,94.90 L93.48,94.32 L93.63,93.75 L93.79,93.19 L93.95,92.64 L94.10,92.09 L94.26,91.54 L94.42,91.00 L94.58,90.47 L94.75,89.94 L94.91,89.42 L95.07,88.90 L95.24,88.39 L95.41,87.89 L95.58,87.39 L95.75,86.89 L95.92,86.40 L96.09,85.92 L96.27,85.44 L96.44,84.97 L96.62,84.50 L96.80,84.04 L96.98,83.58 L97.16,83.12 L97.34,82.67 L97.53,82.23 L97.71,81.79 L97.90,81.36 L98.09,80.93 L98.28,80.50 L98.47,80.08 L98.66,79.66 L98.85,79.25 L99.05,78.84 L99.24,78.44 L99.44,78.04 L99.64,77.65 L99.84,77.26 L100.04,76.87 L100.25,76.49 L100.45,76.11 L100.66,75.74 L100.87,75.37 L101.08,75.00 L101.29,74.64 L101.50,74.28 L101.71,73.92 L101.93,73.57 L102.15,73.22 L102.36,72.88 L102.58,72.54 L102.81,72.20 L103.03,71.87 L103.25,71.54 L103.48,71.21 L103.71,70.89 L103.93,70.57 L104.16,70.26 L104.40,69.94 L104.63,69.63 L104.86,69.33 L105.10,69.03 L105.34,68.73 L105.58,68.43 L105.82,68.14 L106.06,67.84 L106.31,67.56 L106.55,67.27 L106.80,66.99 L107.05,66.71 L107.30,66.44 L107.55,66.16 L107.81,65.89 L108.06,65.63 L108.32,65.36 L108.58,65.10 L108.84,64.84 L109.10,64.58 L109.36,64.33 L109.63,64.08 L109.90,63.83 L110.17,63.58 L110.44,63.34 L110.71,63.10 L110.98,62.86 L111.26,62.62 L111.53,62.39 L111.81,62.15 L112.09,61.93 L112.37,61.70 L112.66,61.47 L112.94,61.25 L113.23,61.03 L113.52,60.81 L113.81,60.60 L114.10,60.38 L114.40,60.17 L114.69,59.96 L114.99,59.75 L115.29,59.55 L115.59,59.34 L115.89,59.14 L116.20,58.94 L116.50,58.74 L116.81,58.54 L117.12,58.35 L117.43,58.16 L117.75,57.96 L118.06,57.78 L118.38,57.59 L118.70,57.41 L119.02,57.23 L119.34,57.05 L119.66,56.87 L119.99,56.70 L120.32,56.53 L120.65,56.36 L120.98,56.20 L121.31,56.04 L121.65,55.88 L121.99,55.72 L122.32,55.57 L122.67,55.42 L123.01,55.27 L123.35,55.13 L123.70,54.99 L124.05,54.85 L124.40,54.71 L124.75,54.58 L125.10,54.45 L125.46,54.32 L125.82,54.20 L126.18,54.07 L126.54,53.95 L126.90,53.84 L127.27,53.72 L127.63,53.61 L128.00,53.50 L128.38,53.39 L128.75,53.29 L129.12,53.18 L129.50,53.08 L129.88,52.98 L130.26,52.89 L130.64,52.79 L131.03,52.70 L131.42,52.61 L131.80,52.51 L132.20,52.42 L132.59,52.34 L132.98,52.25 L133.38,52.16 L133.78,52.08 L134.18,51.99 L134.58,51.91 L134.99,51.82 L135.40,51.74 L135.81,51.66 L136.22,51.57 L136.63,51.49 L137.05,51.40 L137.46,51.32 L137.88,51.23 L138.30,51.14 L138.73,51.05 L139.15,50.96 L139.58,50.87 L140.01,50.78 L140.44,50.69 L140.88,50.60 L141.31,50.51 L141.75,50.42 L142.19,50.33 L142.63,50.24 L143.08,50.16 L143.53,50.07 L143.97,49.99 L144.43,49.90 L144.88,49.82 L145.33,49.73 L145.79,49.65 L146.25,49.57 L146.71,49.49 L147.18,49.41 L147.64,49.33 L148.11,49.25 L148.58,49.17 L149.06,49.09 L149.53,49.01 L150.01,48.94 L150.49,48.86 L150.97,48.79 L151.45,48.71 L151.94,48.64 L152.43,48.56 L152.92,48.49 L153.41,48.41 L153.90,48.34 L154.40,48.27 L154.90,48.20 L155.40,48.13 L155.91,48.06 L156.41,47.99 L156.92,47.92 L157.43,47.85 L157.95,47.78 L158.46,47.71 L158.98,47.65 L159.50,47.58 L160.02,47.51 L160.55,47.45 L161.07,47.38 L161.60,47.32 L162.13,47.25 L162.67,47.19 L163.20,47.13 L163.74,47.06 L164.28,47.00 L164.83,46.94 L165.37,46.88 L165.92,46.82 L166.47,46.76 L167.02,46.70 L167.58,46.64 L168.14,46.58 L168.70,46.52 L169.26,46.46 L169.82,46.40 L170.39,46.35 L170.96,46.29 L171.53,46.23 L172.11,46.18 L172.68,46.12 L173.26,46.06 L173.84,46.01 L174.43,45.96 L175.02,45.90 L175.60,45.85 L176.20,45.79 L176.79,45.74 L177.39,45.69 L177.98,45.64 L178.59,45.58 L179.19,45.53 L179.80,45.48 L180.40,45.43 L181.02,45.38 L181.63,45.33 L182.25,45.28 L182.86,45.23 L183.49,45.18 L184.11,45.13 L184.74,45.08 L185.36,45.04 L186.00,44.99 L186.63,44.94 L187.27,44.89 L187.91,44.85 L188.55,44.80 L189.19,44.75 L189.84,44.71 L190.49,44.66 L191.14,44.62 L191.79,44.57 L192.45,44.53 L193.11,44.48 L193.77,44.44 L194.44,44.40 L195.10,44.35 L195.77,44.31 L196.45,44.27 L197.12,44.23 L197.80,44.18 L198.48,44.14 L199.16,44.10 L199.85,44.06 L200.54,44.02 L201.23,43.98 L201.92,43.94 L202.62,43.90 L203.32,43.86 L204.02,43.82 L204.73,43.78 L205.43,43.74 L206.14,43.70 L206.85,43.66 L207.57,43.62 L208.29,43.59 L209.01,43.55 L209.73,43.51 L210.46,43.47 L211.19,43.44 L211.92,43.40 L212.65,43.36 L213.39,43.33 L214.13,43.29 L214.87,43.26 L215.62,43.22 L216.37,43.19 L217.12,43.15 L217.87,43.12 L218.63,43.08 L219.38,43.05 L220.15,43.01 L220.91,42.98 L221.68,42.95 L222.45,42.91 L223.22,42.88 L224.00,42.85 L224.78,42.81 L225.56,42.78 L226.34,42.75 L227.13,42.72 L227.92,42.68 L228.71,42.65 L229.51,42.62 L230.31,42.59 L231.11,42.56 L231.91,42.53 L232.72,42.50 L233.53,42.47 L234.34,42.44 L235.16,42.41 L235.98,42.38 L236.80,42.35 L237.62,42.32 L238.45,42.29 L239.28,42.26 L240.11,42.23 L240.95,42.20 L241.79,42.17 L242.63,42.14 L243.48,42.12 L244.32,42.09 L245.17,42.06 L246.03,42.03 L246.89,42.00 L247.74,41.98 L248.61,41.95 L249.47,41.92 L250.34,41.90 L251.21,41.87 L252.09,41.84 L252.97,41.82 L253.85,41.79 L254.73,41.76 L255.62,41.74 L256.51,41.71 L257.40,41.69 L258.29,41.66 L259.19,41.64 L260.09,41.61 L261.00,41.59 L261.91,41.56 L262.82,41.54 L263.73,41.51 L264.65,41.49 L265.57,41.47 L266.49,41.44 L267.42,41.42 L268.34,41.39 L269.28,41.37 L270.21,41.35 L271.15,41.32 L272.09,41.30 L273.04,41.28 L273.98,41.25 L274.94,41.23 L275.89,41.21 L276.85,41.19 L277.81,41.17 L278.77,41.14 L279.74,41.12 L280.71,41.10 L281.68,41.08 L282.65,41.06 L283.63,41.03 L284.62,41.01 L285.60,40.99 L286.59,40.97 L287.58,40.95 L288.58,40.93 L289.57,40.91 L290.58,40.89 L291.58,40.87 L292.59,40.85 L293.60,40.83 L294.61,40.81 L295.63,40.79 L296.65,40.77 L297.67,40.75 L298.70,40.73 L299.73,40.71 L300.76,40.69 L301.80,40.67 L302.84,40.65 L303.88,40.63 L304.93,40.61 L305.98,40.59 L307.03,40.57 L308.09,40.56 L309.15,40.54 L310.21,40.52 L311.28,40.50 L312.35,40.48 L313.42,40.46 L314.50,40.45 L315.58,40.43 L316.66,40.41 L317.75,40.39 L318.84,40.38 L319.93,40.36 L321.02,40.34 L322.12,40.32 L323.23,40.31 L324.33,40.29 L325.44,40.27 L326.56,40.26 L327.67,40.24 L328.79,40.22 L329.91,40.21 L331.04,40.19 L332.17,40.17 L333.30,40.16 L334.44,40.14 L335.58,40.12 L336.72,40.11 L337.87,40.09 L339.02,40.08 L340.17,40.06 L341.33,40.04 L342.49,40.03 L343.66,40.01 L344.82,40.00 L345.99,39.98 L347.17,39.97 L348.35,39.95 L349.53,39.94 L350.71,39.92 L351.90,39.91 L353.09,39.89 L354.29,39.88 L355.49,39.86 L356.69,39.85 L357.90,39.83 L359.10,39.82 L360.32,39.81 L361.53,39.79 L362.75,39.78 L363.98,39.76 L365.20,39.75 L366.43,39.74 L367.67,39.72 L368.91,39.71 L370.15,39.69 L371.39,39.68 L372.64,39.67 L373.89,39.65 L375.15,39.64 L376.41,39.63 L377.67,39.61 L378.93,39.60 L380.20,39.59 L381.48,39.57 L382.75,39.56 L384.03,39.55 L385.32,39.54 L386.61,39.52 L387.90,39.51 L389.19,39.50 L390.49,39.48 L391.79,39.47 L393.10,39.46 L394.41,39.45 L395.72,39.44 L397.04,39.42 L398.36,39.41 L399.68,39.40 L401.01,39.39 L402.34,39.37 L403.68,39.36 L405.02,39.35 L406.36,39.34 L407.71,39.33 L409.06,39.32 L410.41,39.30 L411.77,39.29 L413.13,39.28 L414.50,39.27 L415.86,39.26 L417.24,39.25 L418.61,39.24 L419.99,39.22 L421.38,39.21 L422.76,39.20 L424.16,39.19 L425.55,39.18 L426.95,39.17 L428.35,39.16 L429.76,39.15 L431.17,39.14 L432.58,39.13 L434.00,39.12 L435.42,39.11 L436.85,39.09 L438.28,39.08 L439.71,39.07 L441.15,39.06 L442.59,39.05 L444.03,39.04 L445.48,39.03 L446.93,39.02 L448.39,39.01 L449.85,39.00 L451.31,38.99 L452.78,38.98 L454.25,38.97 L455.73,38.96 L457.21,38.95 L458.69,38.94 L460.18,38.93 L461.67,38.92 L463.16,38.91 L464.66,38.90 L466.16,38.90 L467.67,38.89 L469.18,38.88 L470.69,38.87 L472.21,38.86 L473.74,38.85 L475.26,38.84 L476.79,38.83 L478.33,38.82 L479.86,38.81 L481.41,38.80 L482.95,38.79 L484.50,38.79 L486.06,38.78 L487.61,38.77 L489.18,38.76 L490.74,38.75 L492.31,38.74 L493.89,38.73 L495.46,38.72 L497.05,38.72 L498.63,38.71 L500.22,38.70 L501.82,38.69 L503.41,38.68 L505.02,38.67 L506.62,38.66 L508.23,38.66 L509.85,38.65 L511.47,38.64 L513.09,38.63 L514.72,38.62 L516.35,38.62" fill="none" stroke="#dd3333" stroke-width="1.5" stroke-dasharray="11.5 5" stroke-dashoffset="4.6" clip-path="url(#cah)"/>
</g>
<g clip-path="url(#cb)">
<path d="M80.80,612.36 L88.13,624.75 L73.47,624.75 Z" fill="#ee1111" stroke="#000" stroke-width="1.9"/>
<path d="M85.40,592.33 L92.42,604.75 L78.38,604.75 Z" fill="#ee1111" stroke="#000" stroke-width="1.9"/>
<path d="M91.00,585.36 L98.23,597.55 L83.77,597.55 Z" fill="#ee1111" stroke="#000" stroke-width="1.9"/>
<path d="M100.20,541.55 L107.43,554.55 L92.97,554.55 Z" fill="#ee1111" stroke="#000" stroke-width="1.9"/>
<path d="M119.30,501.37 L126.79,514.95 L111.81,514.95 Z" fill="#ee1111" stroke="#000" stroke-width="1.9"/>
<path d="M129.30,462.40 L136.95,475.65 L121.65,475.65 Z" fill="#ee1111" stroke="#000" stroke-width="1.9"/>
<path d="M153.90,427.66 L161.38,440.25 L146.42,440.25 Z" fill="#ee1111" stroke="#000" stroke-width="1.9"/>
<path d="M178.00,415.66 L185.48,428.25 L170.52,428.25 Z" fill="#ee1111" stroke="#000" stroke-width="1.9"/>
<path d="M275.20,384.55 L282.52,396.75 L267.88,396.75 Z" fill="#ee1111" stroke="#000" stroke-width="1.9"/>
<path d="M372.50,368.42 L379.87,381.35 L365.13,381.35 Z" fill="#ee1111" stroke="#000" stroke-width="1.9"/>
<path d="M469.80,337.68 L477.14,350.25 L462.46,350.25 Z" fill="#ee1111" stroke="#000" stroke-width="1.9"/>
<path d="M81.40,618.50 L86.43,627.25 L76.37,627.25 Z" fill="#22ee22" stroke="#000" stroke-width="1.7"/>
<path d="M86.00,596.10 L91.03,604.85 L80.97,604.85 Z" fill="#22ee22" stroke="#000" stroke-width="1.7"/>
<path d="M89.40,588.90 L94.43,597.65 L84.37,597.65 Z" fill="#22ee22" stroke="#000" stroke-width="1.7"/>
<path d="M100.90,556.00 L105.93,564.75 L95.87,564.75 Z" fill="#22ee22" stroke="#000" stroke-width="1.7"/>
<path d="M120.20,512.40 L125.23,521.15 L115.17,521.15 Z" fill="#22ee22" stroke="#000" stroke-width="1.7"/>
<path d="M129.50,477.50 L134.53,486.25 L124.47,486.25 Z" fill="#22ee22" stroke="#000" stroke-width="1.7"/>
<path d="M154.40,437.80 L159.43,446.55 L149.37,446.55 Z" fill="#22ee22" stroke="#000" stroke-width="1.7"/>
<path d="M178.40,426.30 L183.43,435.05 L173.37,435.05 Z" fill="#22ee22" stroke="#000" stroke-width="1.7"/>
<path d="M275.30,395.00 L280.33,403.75 L270.27,403.75 Z" fill="#22ee22" stroke="#000" stroke-width="1.7"/>
<path d="M372.60,379.00 L377.63,387.75 L367.57,387.75 Z" fill="#22ee22" stroke="#000" stroke-width="1.7"/>
<path d="M469.80,347.70 L474.83,356.45 L464.77,356.45 Z" fill="#22ee22" stroke="#000" stroke-width="1.7"/>
<path d="M80.80,628.10 L81.58,623.64 L82.36,619.31 L83.13,615.09 L83.91,611.00 L84.69,607.01 L85.47,603.14 L86.24,599.36 L87.02,595.69 L87.80,592.11 L88.58,588.62 L89.36,585.21 L90.13,581.90 L90.91,578.66 L91.69,575.50 L92.47,572.42 L93.24,569.41 L94.02,566.47 L94.80,563.60 L95.58,560.80 L96.36,558.05 L97.13,555.37 L97.91,552.75 L98.69,550.19 L99.47,547.68 L100.24,545.22 L101.02,542.82 L101.80,540.47 L102.58,538.16 L103.36,535.91 L104.13,533.70 L104.91,531.53 L105.69,529.41 L106.47,527.33 L107.24,525.29 L108.02,523.28 L108.80,521.32 L109.58,519.40 L110.35,517.51 L111.13,515.65 L111.91,513.83 L112.69,512.04 L113.47,510.29 L114.24,508.57 L115.02,506.87 L115.80,505.21 L116.58,503.58 L117.35,501.97 L118.13,500.39 L118.91,498.84 L119.69,497.32 L120.47,495.82 L121.24,494.34 L122.02,492.89 L122.80,491.47 L123.58,490.06 L124.35,488.68 L125.13,487.32 L125.91,485.99 L126.69,484.67 L127.47,483.37 L128.24,482.10 L129.02,480.84 L129.80,479.60 L130.58,478.39 L131.35,477.19 L132.13,476.00 L132.91,474.84 L133.69,473.69 L134.47,472.56 L135.24,471.44 L136.02,470.35 L136.80,469.26 L137.58,468.19 L138.35,467.14 L139.13,466.10 L139.91,465.08 L140.69,464.07 L141.47,463.07 L142.24,462.09 L143.02,461.12 L143.80,460.16 L144.58,459.22 L145.35,458.29 L146.13,457.37 L146.91,456.46 L147.69,455.57 L148.47,454.68 L149.24,453.81 L150.02,452.95 L150.80,452.10 L151.58,451.26 L152.35,450.43 L153.13,449.61 L153.91,448.80 L154.69,448.00 L155.46,447.21 L156.24,446.43 L157.02,445.66 L157.80,444.90 L158.58,444.15 L159.35,443.41 L160.13,442.67 L160.91,441.95 L161.69,441.23 L162.46,440.52 L163.24,439.82 L164.02,439.12 L164.80,438.44 L165.58,437.76 L166.35,437.09 L167.13,436.43 L167.91,435.77 L168.69,435.13 L169.46,434.48 L170.24,433.85 L171.02,433.22 L171.80,432.60 L172.58,431.99 L173.35,431.38 L174.13,430.78 L174.91,430.19 L175.69,429.60 L176.46,429.02 L177.24,428.44 L178.02,427.87 L178.80,427.31 L179.58,426.75 L180.35,426.20 L181.13,425.65 L181.91,425.11 L182.69,424.57 L183.46,424.04 L184.24,423.51 L185.02,422.99 L185.80,422.48 L186.58,421.97 L187.35,421.46 L188.13,420.96 L188.91,420.47 L189.69,419.98 L190.46,419.49 L191.24,419.01 L192.02,418.53 L192.80,418.06 L193.58,417.59 L194.35,417.13 L195.13,416.67 L195.91,416.21 L196.69,415.76 L197.46,415.32 L198.24,414.87 L199.02,414.43 L199.80,414.00 L200.58,413.57 L201.35,413.14 L202.13,412.72 L202.91,412.30 L203.69,411.88 L204.46,411.47 L205.24,411.06 L206.02,410.66 L206.80,410.26 L207.57,409.86 L208.35,409.47 L209.13,409.07 L209.91,408.69 L210.69,408.30 L211.46,407.92 L212.24,407.54 L213.02,407.17 L213.80,406.80 L214.57,406.43 L215.35,406.06 L216.13,405.70 L216.91,405.34 L217.69,404.98 L218.46,404.63 L219.24,404.28 L220.02,403.93 L220.80,403.59 L221.57,403.24 L222.35,402.90 L223.13,402.57 L223.91,402.23 L224.69,401.90 L225.46,401.57 L226.24,401.24 L227.02,400.92 L227.80,400.60 L228.57,400.28 L229.35,399.96 L230.13,399.65 L230.91,399.34 L231.69,399.03 L232.46,398.72 L233.24,398.42 L234.02,398.11 L234.80,397.81 L235.57,397.52 L236.35,397.22 L237.13,396.93 L237.91,396.64 L238.69,396.35 L239.46,396.06 L240.24,395.78 L241.02,395.49 L241.80,395.21 L242.57,394.93 L243.35,394.66 L244.13,394.38 L244.91,394.11 L245.69,393.84 L246.46,393.57 L247.24,393.30 L248.02,393.04 L248.80,392.77 L249.57,392.51 L250.35,392.25 L251.13,392.00 L251.91,391.74 L252.68,391.48 L253.46,391.23 L254.24,390.98 L255.02,390.73 L255.80,390.49 L256.57,390.24 L257.35,390.00 L258.13,389.75 L258.91,389.51 L259.68,389.27 L260.46,389.04 L261.24,388.80 L262.02,388.57 L262.80,388.33 L263.57,388.10 L264.35,387.87 L265.13,387.64 L265.91,387.42 L266.68,387.19 L267.46,386.97 L268.24,386.75 L269.02,386.52 L269.80,386.31 L270.57,386.09 L271.35,385.87 L272.13,385.66 L272.91,385.44 L273.68,385.23 L274.46,385.02 L275.24,384.81 L276.02,384.60 L276.80,384.39 L277.57,384.19 L278.35,383.98 L279.13,383.78 L279.91,383.57 L280.68,383.37 L281.46,383.17 L282.24,382.98 L283.02,382.78 L283.80,382.58 L284.57,382.39 L285.35,382.19 L286.13,382.00 L286.91,381.81 L287.68,381.62 L288.46,381.43 L289.24,381.24 L290.02,381.05 L290.80,380.87 L291.57,380.68 L292.35,380.50 L293.13,380.32 L293.91,380.14 L294.68,379.96 L295.46,379.78 L296.24,379.60 L297.02,379.42 L297.80,379.24 L298.57,379.07 L299.35,378.89 L300.13,378.72 L300.91,378.55 L301.68,378.38 L302.46,378.21 L303.24,378.04 L304.02,377.87 L304.79,377.70 L305.57,377.53 L306.35,377.37 L307.13,377.20 L307.91,377.04 L308.68,376.88 L309.46,376.72 L310.24,376.55 L311.02,376.39 L311.79,376.24 L312.57,376.08 L313.35,375.92 L314.13,375.76 L314.91,375.61 L315.68,375.45 L316.46,375.30 L317.24,375.14 L318.02,374.99 L318.79,374.84 L319.57,374.69 L320.35,374.54 L321.13,374.39 L321.91,374.24 L322.68,374.09 L323.46,373.95 L324.24,373.80 L325.02,373.65 L325.79,373.51 L326.57,373.36 L327.35,373.22 L328.13,373.08 L328.91,372.94 L329.68,372.80 L330.46,372.66 L331.24,372.52 L332.02,372.38 L332.79,372.24 L333.57,372.10 L334.35,371.96 L335.13,371.83 L335.91,371.69 L336.68,371.56 L337.46,371.42 L338.24,371.29 L339.02,371.16 L339.79,371.03 L340.57,370.90 L341.35,370.76 L342.13,370.63 L342.91,370.50 L343.68,370.38 L344.46,370.25 L345.24,370.12 L346.02,369.99 L346.79,369.87 L347.57,369.74 L348.35,369.62 L349.13,369.49 L349.90,369.37 L350.68,369.24 L351.46,369.12 L352.24,369.00 L353.02,368.88 L353.79,368.76 L354.57,368.64 L355.35,368.52 L356.13,368.40 L356.90,368.28 L357.68,368.16 L358.46,368.04 L359.24,367.93 L360.02,367.81 L360.79,367.69 L361.57,367.58 L362.35,367.46 L363.13,367.35 L363.90,367.24 L364.68,367.12 L365.46,367.01 L366.24,366.90 L367.02,366.79 L367.79,366.68 L368.57,366.56 L369.35,366.45 L370.13,366.34 L370.90,366.24 L371.68,366.13 L372.46,366.02 L373.24,365.91 L374.02,365.80 L374.79,365.70 L375.57,365.59 L376.35,365.48 L377.13,365.38 L377.90,365.27 L378.68,365.17 L379.46,365.07 L380.24,364.96 L381.02,364.86 L381.79,364.76 L382.57,364.66 L383.35,364.55 L384.13,364.45 L384.90,364.35 L385.68,364.25 L386.46,364.15 L387.24,364.05 L388.02,363.95 L388.79,363.85 L389.57,363.76 L390.35,363.66 L391.13,363.56 L391.90,363.46 L392.68,363.37 L393.46,363.27 L394.24,363.18 L395.02,363.08 L395.79,362.99 L396.57,362.89 L397.35,362.80 L398.13,362.70 L398.90,362.61 L399.68,362.52 L400.46,362.42 L401.24,362.33 L402.01,362.24 L402.79,362.15 L403.57,362.06 L404.35,361.97 L405.13,361.88 L405.90,361.79 L406.68,361.70 L407.46,361.61 L408.24,361.52 L409.01,361.43 L409.79,361.34 L410.57,361.26 L411.35,361.17 L412.13,361.08 L412.90,360.99 L413.68,360.91 L414.46,360.82 L415.24,360.74 L416.01,360.65 L416.79,360.57 L417.57,360.48 L418.35,360.40 L419.13,360.31 L419.90,360.23 L420.68,360.15 L421.46,360.06 L422.24,359.98 L423.01,359.90 L423.79,359.82 L424.57,359.74 L425.35,359.65 L426.13,359.57 L426.90,359.49 L427.68,359.41 L428.46,359.33 L429.24,359.25 L430.01,359.17 L430.79,359.09 L431.57,359.01 L432.35,358.94 L433.13,358.86 L433.90,358.78 L434.68,358.70 L435.46,358.63 L436.24,358.55 L437.01,358.47 L437.79,358.40 L438.57,358.32 L439.35,358.24 L440.13,358.17 L440.90,358.09 L441.68,358.02 L442.46,357.94 L443.24,357.87 L444.01,357.79 L444.79,357.72 L445.57,357.65 L446.35,357.57 L447.12,357.50 L447.90,357.43 L448.68,357.35 L449.46,357.28 L450.24,357.21 L451.01,357.14 L451.79,357.07 L452.57,357.00 L453.35,356.92 L454.12,356.85 L454.90,356.78 L455.68,356.71 L456.46,356.64 L457.24,356.57 L458.01,356.50 L458.79,356.44 L459.57,356.37 L460.35,356.30 L461.12,356.23 L461.90,356.16 L462.68,356.09 L463.46,356.03 L464.24,355.96 L465.01,355.89 L465.79,355.82 L466.57,355.76 L467.35,355.69 L468.12,355.62 L468.90,355.56 L469.68,355.49" fill="none" stroke="#dd1111" stroke-width="1.7" stroke-dasharray="7 2.5 1.5 2.5 1.5 2.5"/>
<path d="M80.80,628.10 L81.58,624.09 L82.36,620.18 L83.13,616.37 L83.91,612.66 L84.69,609.04 L85.47,605.52 L86.24,602.07 L87.02,598.71 L87.80,595.43 L88.58,592.22 L89.36,589.09 L90.13,586.04 L90.91,583.05 L91.69,580.13 L92.47,577.27 L93.24,574.47 L94.02,571.74 L94.80,569.06 L95.58,566.45 L96.36,563.88 L97.13,561.37 L97.91,558.91 L98.69,556.50 L99.47,554.14 L100.24,551.83 L101.02,549.56 L101.80,547.34 L102.58,545.16 L103.36,543.02 L104.13,540.93 L104.91,538.87 L105.69,536.85 L106.47,534.87 L107.24,532.92 L108.02,531.01 L108.80,529.13 L109.58,527.29 L110.35,525.48 L111.13,523.70 L111.91,521.95 L112.69,520.23 L113.47,518.55 L114.24,516.89 L115.02,515.25 L115.80,513.65 L116.58,512.07 L117.35,510.52 L118.13,508.99 L118.91,507.49 L119.69,506.01 L120.47,504.55 L121.24,503.12 L122.02,501.71 L122.80,500.32 L123.58,498.96 L124.35,497.61 L125.13,496.28 L125.91,494.98 L126.69,493.69 L127.47,492.42 L128.24,491.17 L129.02,489.94 L129.80,488.73 L130.58,487.54 L131.35,486.36 L132.13,485.20 L132.91,484.05 L133.69,482.92 L134.47,481.81 L135.24,480.71 L136.02,479.62 L136.80,478.56 L137.58,477.50 L138.35,476.46 L139.13,475.44 L139.91,474.42 L140.69,473.42 L141.47,472.44 L142.24,471.46 L143.02,470.50 L143.80,469.55 L144.58,468.62 L145.35,467.69 L146.13,466.78 L146.91,465.88 L147.69,464.99 L148.47,464.11 L149.24,463.24 L150.02,462.38 L150.80,461.53 L151.58,460.69 L152.35,459.87 L153.13,459.05 L153.91,458.24 L154.69,457.44 L155.46,456.65 L156.24,455.87 L157.02,455.10 L157.80,454.34 L158.58,453.58 L159.35,452.84 L160.13,452.10 L160.91,451.37 L161.69,450.65 L162.46,449.94 L163.24,449.24 L164.02,448.54 L164.80,447.85 L165.58,447.17 L166.35,446.50 L167.13,445.83 L167.91,445.17 L168.69,444.52 L169.46,443.87 L170.24,443.23 L171.02,442.60 L171.80,441.97 L172.58,441.35 L173.35,440.74 L174.13,440.13 L174.91,439.53 L175.69,438.94 L176.46,438.35 L177.24,437.77 L178.02,437.19 L178.80,436.62 L179.58,436.05 L180.35,435.49 L181.13,434.94 L181.91,434.39 L182.69,433.85 L183.46,433.31 L184.24,432.77 L185.02,432.25 L185.80,431.72 L186.58,431.21 L187.35,430.69 L188.13,430.18 L188.91,429.68 L189.69,429.18 L190.46,428.69 L191.24,428.20 L192.02,427.71 L192.80,427.23 L193.58,426.75 L194.35,426.28 L195.13,425.81 L195.91,425.35 L196.69,424.89 L197.46,424.43 L198.24,423.98 L199.02,423.54 L199.80,423.09 L200.58,422.65 L201.35,422.22 L202.13,421.78 L202.91,421.35 L203.69,420.93 L204.46,420.51 L205.24,420.09 L206.02,419.68 L206.80,419.27 L207.57,418.86 L208.35,418.46 L209.13,418.06 L209.91,417.66 L210.69,417.26 L211.46,416.87 L212.24,416.49 L213.02,416.10 L213.80,415.72 L214.57,415.34 L215.35,414.97 L216.13,414.60 L216.91,414.23 L217.69,413.86 L218.46,413.50 L219.24,413.14 L220.02,412.78 L220.80,412.43 L221.57,412.07 L222.35,411.72 L223.13,411.38 L223.91,411.03 L224.69,410.69 L225.46,410.36 L226.24,410.02 L227.02,409.69 L227.80,409.35 L228.57,409.03 L229.35,408.70 L230.13,408.38 L230.91,408.06 L231.69,407.74 L232.46,407.42 L233.24,407.11 L234.02,406.80 L234.80,406.49 L235.57,406.18 L236.35,405.87 L237.13,405.57 L237.91,405.27 L238.69,404.97 L239.46,404.68 L240.24,404.38 L241.02,404.09 L241.80,403.80 L242.57,403.51 L243.35,403.23 L244.13,402.94 L244.91,402.66 L245.69,402.38 L246.46,402.10 L247.24,401.83 L248.02,401.55 L248.80,401.28 L249.57,401.01 L250.35,400.74 L251.13,400.48 L251.91,400.21 L252.68,399.95 L253.46,399.69 L254.24,399.43 L255.02,399.17 L255.80,398.91 L256.57,398.66 L257.35,398.41 L258.13,398.15 L258.91,397.90 L259.68,397.66 L260.46,397.41 L261.24,397.17 L262.02,396.92 L262.80,396.68 L263.57,396.44 L264.35,396.20 L265.13,395.97 L265.91,395.73 L266.68,395.50 L267.46,395.27 L268.24,395.03 L269.02,394.81 L269.80,394.58 L270.57,394.35 L271.35,394.13 L272.13,393.90 L272.91,393.68 L273.68,393.46 L274.46,393.24 L275.24,393.02 L276.02,392.80 L276.80,392.59 L277.57,392.37 L278.35,392.16 L279.13,391.95 L279.91,391.74 L280.68,391.53 L281.46,391.32 L282.24,391.12 L283.02,390.91 L283.80,390.71 L284.57,390.50 L285.35,390.30 L286.13,390.10 L286.91,389.90 L287.68,389.70 L288.46,389.51 L289.24,389.31 L290.02,389.12 L290.80,388.92 L291.57,388.73 L292.35,388.54 L293.13,388.35 L293.91,388.16 L294.68,387.97 L295.46,387.78 L296.24,387.60 L297.02,387.41 L297.80,387.23 L298.57,387.05 L299.35,386.86 L300.13,386.68 L300.91,386.50 L301.68,386.32 L302.46,386.15 L303.24,385.97 L304.02,385.79 L304.79,385.62 L305.57,385.44 L306.35,385.27 L307.13,385.10 L307.91,384.93 L308.68,384.76 L309.46,384.59 L310.24,384.42 L311.02,384.25 L311.79,384.09 L312.57,383.92 L313.35,383.76 L314.13,383.59 L314.91,383.43 L315.68,383.27 L316.46,383.11 L317.24,382.95 L318.02,382.79 L318.79,382.63 L319.57,382.47 L320.35,382.31 L321.13,382.16 L321.91,382.00 L322.68,381.85 L323.46,381.69 L324.24,381.54 L325.02,381.39 L325.79,381.24 L326.57,381.08 L327.35,380.93 L328.13,380.79 L328.91,380.64 L329.68,380.49 L330.46,380.34 L331.24,380.20 L332.02,380.05 L332.79,379.91 L333.57,379.76 L334.35,379.62 L335.13,379.48 L335.91,379.33 L336.68,379.19 L337.46,379.05 L338.24,378.91 L339.02,378.77 L339.79,378.64 L340.57,378.50 L341.35,378.36 L342.13,378.22 L342.91,378.09 L343.68,377.95 L344.46,377.82 L345.24,377.68 L346.02,377.55 L346.79,377.42 L347.57,377.29 L348.35,377.16 L349.13,377.03 L349.90,376.90 L350.68,376.77 L351.46,376.64 L352.24,376.51 L353.02,376.38 L353.79,376.25 L354.57,376.13 L355.35,376.00 L356.13,375.88 L356.90,375.75 L357.68,375.63 L358.46,375.51 L359.24,375.38 L360.02,375.26 L360.79,375.14 L361.57,375.02 L362.35,374.90 L363.13,374.78 L363.90,374.66 L364.68,374.54 L365.46,374.42 L366.24,374.30 L367.02,374.18 L367.79,374.07 L368.57,373.95 L369.35,373.83 L370.13,373.72 L370.90,373.60 L371.68,373.49 L372.46,373.38 L373.24,373.26 L374.02,373.15 L374.79,373.04 L375.57,372.93 L376.35,372.82 L377.13,372.70 L377.90,372.59 L378.68,372.48 L379.46,372.37 L380.24,372.27 L381.02,372.16 L381.79,372.05 L382.57,371.94 L383.35,371.84 L384.13,371.73 L384.90,371.62 L385.68,371.52 L386.46,371.41 L387.24,371.31 L388.02,371.20 L388.79,371.10 L389.57,371.00 L390.35,370.89 L391.13,370.79 L391.90,370.69 L392.68,370.59 L393.46,370.48 L394.24,370.38 L395.02,370.28 L395.79,370.18 L396.57,370.08 L397.35,369.98 L398.13,369.89 L398.90,369.79 L399.68,369.69 L400.46,369.59 L401.24,369.50 L402.01,369.40 L402.79,369.30 L403.57,369.21 L404.35,369.11 L405.13,369.02 L405.90,368.92 L406.68,368.83 L407.46,368.73 L408.24,368.64 L409.01,368.55 L409.79,368.45 L410.57,368.36 L411.35,368.27 L412.13,368.18 L412.90,368.08 L413.68,367.99 L414.46,367.90 L415.24,367.81 L416.01,367.72 L416.79,367.63 L417.57,367.54 L418.35,367.45 L419.13,367.37 L419.90,367.28 L420.68,367.19 L421.46,367.10 L422.24,367.02 L423.01,366.93 L423.79,366.84 L424.57,366.76 L425.35,366.67 L426.13,366.58 L426.90,366.50 L427.68,366.41 L428.46,366.33 L429.24,366.25 L430.01,366.16 L430.79,366.08 L431.57,365.99 L432.35,365.91 L433.13,365.83 L433.90,365.75 L434.68,365.66 L435.46,365.58 L436.24,365.50 L437.01,365.42 L437.79,365.34 L438.57,365.26 L439.35,365.18 L440.13,365.10 L440.90,365.02 L441.68,364.94 L442.46,364.86 L443.24,364.78 L444.01,364.70 L444.79,364.63 L445.57,364.55 L446.35,364.47 L447.12,364.39 L447.90,364.32 L448.68,364.24 L449.46,364.16 L450.24,364.09 L451.01,364.01 L451.79,363.94 L452.57,363.86 L453.35,363.79 L454.12,363.71 L454.90,363.64 L455.68,363.56 L456.46,363.49 L457.24,363.41 L458.01,363.34 L458.79,363.27 L459.57,363.19 L460.35,363.12 L461.12,363.05 L461.90,362.98 L462.68,362.91 L463.46,362.83 L464.24,362.76 L465.01,362.69 L465.79,362.62 L466.57,362.55 L467.35,362.48 L468.12,362.41 L468.90,362.34 L469.68,362.27" fill="none" stroke="#22cc22" stroke-width="1.7" stroke-dasharray="7 2.5 1.5 2.5 1.5 2.5"/>
</g>
<rect x="268.4" y="59.3" width="232.40000000000003" height="163.2" fill="#fff" stroke="none"/>
<line x1="268.4" y1="59.3" x2="500.8" y2="59.3" stroke="#8a8a8a" stroke-width="1"/>
<line x1="500.8" y1="59.3" x2="500.8" y2="222.5" stroke="#6a6a6a" stroke-width="1"/>
<line x1="268.4" y1="59.3" x2="268.4" y2="222.5" stroke="#555" stroke-width="1"/>
<line x1="268.4" y1="222.5" x2="500.8" y2="222.5" stroke="#555" stroke-width="1"/>
<line x1="261" y1="221.63" x2="268.4" y2="221.63" stroke="#000" stroke-width="1.5"/>
<text x="254" y="226.13" text-anchor="end" font-size="12.6">-20</text>
<line x1="261" y1="205.40" x2="268.4" y2="205.40" stroke="#000" stroke-width="1.5"/>
<text x="254" y="209.90" text-anchor="end" font-size="12.6">0</text>
<line x1="261" y1="189.17" x2="268.4" y2="189.17" stroke="#000" stroke-width="1.5"/>
<text x="254" y="193.67" text-anchor="end" font-size="12.6">20</text>
<line x1="261" y1="172.94" x2="268.4" y2="172.94" stroke="#000" stroke-width="1.5"/>
<text x="254" y="177.44" text-anchor="end" font-size="12.6">40</text>
<line x1="261" y1="156.71" x2="268.4" y2="156.71" stroke="#000" stroke-width="1.5"/>
<text x="254" y="161.21" text-anchor="end" font-size="12.6">60</text>
<line x1="261" y1="140.48" x2="268.4" y2="140.48" stroke="#000" stroke-width="1.5"/>
<text x="254" y="144.98" text-anchor="end" font-size="12.6">80</text>
<line x1="261" y1="124.25" x2="268.4" y2="124.25" stroke="#000" stroke-width="1.5"/>
<text x="254" y="128.75" text-anchor="end" font-size="12.6">100</text>
<line x1="261" y1="108.02" x2="268.4" y2="108.02" stroke="#000" stroke-width="1.5"/>
<text x="254" y="112.52" text-anchor="end" font-size="12.6">120</text>
<line x1="261" y1="91.79" x2="268.4" y2="91.79" stroke="#000" stroke-width="1.5"/>
<text x="254" y="96.29" text-anchor="end" font-size="12.6">140</text>
<line x1="261" y1="75.56" x2="268.4" y2="75.56" stroke="#000" stroke-width="1.5"/>
<text x="254" y="80.06" text-anchor="end" font-size="12.6">160</text>
<line x1="261" y1="59.33" x2="268.4" y2="59.33" stroke="#000" stroke-width="1.5"/>
<text x="254" y="63.83" text-anchor="end" font-size="12.6">180</text>
<line x1="297.80" y1="224.00" x2="297.80" y2="229" stroke="#000" stroke-width="1.6"/>
<text x="297.80" y="247.8" text-anchor="middle" font-size="12.6">0</text>
<line x1="365.20" y1="224.00" x2="365.20" y2="229" stroke="#000" stroke-width="1.6"/>
<text x="365.20" y="247.8" text-anchor="middle" font-size="12.6">20</text>
<line x1="432.60" y1="224.00" x2="432.60" y2="229" stroke="#000" stroke-width="1.6"/>
<text x="432.60" y="247.8" text-anchor="middle" font-size="12.6">40</text>
<line x1="500.00" y1="224.00" x2="500.00" y2="229" stroke="#000" stroke-width="1.6"/>
<text x="500.00" y="247.8" text-anchor="middle" font-size="12.6">60</text>
<text transform="translate(221.0,139.9) rotate(-90) scale(1.155,1)" text-anchor="middle" font-size="12">nM IIa/sec</text>
<text x="348.0" y="266.4" font-size="13.6">[C6PS]<tspan font-family="Liberation Serif" font-size="14.2">(μM)</tspan></text>
<g clip-path="url(#ci)">
<path d="M298.41,211.09 L298.41,211.09 L298.41,211.09 L298.41,211.09 L298.41,211.09 L298.41,211.09 L298.41,211.09 L298.41,211.08 L298.41,211.08 L298.41,211.07 L298.41,211.06 L298.41,211.05 L298.41,211.04 L298.41,211.03 L298.41,211.01 L298.42,210.99 L298.42,210.97 L298.42,210.94 L298.42,210.91 L298.42,210.88 L298.43,210.85 L298.43,210.81 L298.43,210.76 L298.44,210.72 L298.44,210.67 L298.45,210.61 L298.45,210.55 L298.46,210.49 L298.46,210.42 L298.47,210.34 L298.48,210.26 L298.48,210.18 L298.49,210.09 L298.50,209.99 L298.51,209.89 L298.52,209.78 L298.53,209.67 L298.54,209.55 L298.55,209.42 L298.56,209.28 L298.57,209.14 L298.59,209.00 L298.60,208.84 L298.62,208.68 L298.63,208.51 L298.65,208.33 L298.66,208.15 L298.68,207.96 L298.70,207.76 L298.72,207.55 L298.73,207.34 L298.75,207.11 L298.78,206.88 L298.80,206.64 L298.82,206.39 L298.84,206.14 L298.87,205.87 L298.89,205.60 L298.92,205.32 L298.95,205.02 L298.97,204.72 L299.00,204.42 L299.03,204.10 L299.06,203.77 L299.09,203.44 L299.13,203.10 L299.16,202.74 L299.20,202.38 L299.23,202.01 L299.27,201.63 L299.31,201.24 L299.35,200.85 L299.39,200.44 L299.43,200.03 L299.47,199.60 L299.51,199.17 L299.56,198.73 L299.60,198.28 L299.65,197.83 L299.70,197.36 L299.75,196.88 L299.80,196.40 L299.85,195.91 L299.91,195.41 L299.96,194.90 L300.02,194.39 L300.08,193.87 L300.13,193.34 L300.19,192.80 L300.26,192.25 L300.32,191.70 L300.38,191.14 L300.45,190.57 L300.52,190.00 L300.59,189.41 L300.66,188.83 L300.73,188.23 L300.80,187.63 L300.88,187.02 L300.95,186.41 L301.03,185.79 L301.11,185.17 L301.19,184.54 L301.27,183.90 L301.36,183.26 L301.44,182.62 L301.53,181.96 L301.62,181.31 L301.71,180.65 L301.80,179.99 L301.90,179.32 L301.99,178.65 L302.09,177.97 L302.19,177.29 L302.29,176.61 L302.40,175.93 L302.50,175.24 L302.61,174.55 L302.72,173.85 L302.83,173.16 L302.94,172.46 L303.05,171.76 L303.17,171.06 L303.29,170.35 L303.41,169.65 L303.53,168.94 L303.65,168.23 L303.78,167.53 L303.91,166.82 L304.04,166.11 L304.17,165.40 L304.30,164.69 L304.44,163.98 L304.58,163.27 L304.72,162.56 L304.86,161.85 L305.01,161.14 L305.15,160.43 L305.30,159.72 L305.45,159.02 L305.61,158.31 L305.76,157.61 L305.92,156.91 L306.08,156.21 L306.24,155.51 L306.40,154.81 L306.57,154.12 L306.74,153.42 L306.91,152.73 L307.08,152.04 L307.26,151.36 L307.44,150.67 L307.62,149.99 L307.80,149.32 L307.99,148.64 L308.18,147.97 L308.37,147.30 L308.56,146.63 L308.75,145.97 L308.95,145.31 L309.15,144.66 L309.35,144.00 L309.56,143.35 L309.77,142.71 L309.98,142.07 L310.19,141.43 L310.41,140.80 L310.62,140.17 L310.85,139.54 L311.07,138.92 L311.30,138.30 L311.52,137.68 L311.76,137.07 L311.99,136.47 L312.23,135.87 L312.47,135.27 L312.71,134.68 L312.95,134.09 L313.20,133.50 L313.45,132.92 L313.71,132.35 L313.96,131.78 L314.22,131.21 L314.48,130.65 L314.75,130.09 L315.02,129.53 L315.29,128.98 L315.56,128.44 L315.84,127.90 L316.12,127.36 L316.40,126.83 L316.69,126.30 L316.97,125.78 L317.27,125.26 L317.56,124.75 L317.86,124.24 L318.16,123.74 L318.46,123.24 L318.77,122.74 L319.08,122.25 L319.39,121.76 L319.71,121.28 L320.03,120.80 L320.35,120.33 L320.68,119.86 L321.01,119.40 L321.34,118.94 L321.67,118.48 L322.01,118.03 L322.36,117.58 L322.70,117.14 L323.05,116.70 L323.40,116.27 L323.76,115.84 L324.12,115.41 L324.48,114.99 L324.84,114.57 L325.21,114.16 L325.58,113.75 L325.96,113.34 L326.34,112.94 L326.72,112.54 L327.11,112.15 L327.50,111.76 L327.89,111.37 L328.29,110.99 L328.69,110.61 L329.09,110.24 L329.50,109.87 L329.91,109.50 L330.32,109.14 L330.74,108.78 L331.16,108.43 L331.59,108.08 L332.02,107.73 L332.45,107.38 L332.89,107.04 L333.33,106.71 L333.77,106.37 L334.22,106.04 L334.67,105.71 L335.13,105.39 L335.59,105.07 L336.05,104.75 L336.52,104.44 L336.99,104.13 L337.46,103.82 L337.94,103.52 L338.42,103.22 L338.91,102.92 L339.40,102.63 L339.89,102.34 L340.39,102.05 L340.89,101.77 L341.40,101.48 L341.91,101.20 L342.42,100.93 L342.94,100.66 L343.46,100.39 L343.98,100.12 L344.51,99.85 L345.05,99.59 L345.59,99.33 L346.13,99.08 L346.68,98.82 L347.23,98.57 L347.78,98.33 L348.34,98.08 L348.90,97.84 L349.47,97.60 L350.04,97.36 L350.62,97.12 L351.20,96.89 L351.78,96.66 L352.37,96.43 L352.96,96.21 L353.56,95.99 L354.16,95.76 L354.77,95.55 L355.38,95.33 L355.99,95.12 L356.61,94.91 L357.24,94.70 L357.86,94.49 L358.50,94.28 L359.13,94.08 L359.78,93.88 L360.42,93.68 L361.07,93.49 L361.73,93.29 L362.39,93.10 L363.05,92.91 L363.72,92.72 L364.39,92.54 L365.07,92.35 L365.75,92.17 L366.44,91.99 L367.13,91.81 L367.83,91.63 L368.53,91.46 L369.24,91.29 L369.95,91.11 L370.66,90.94 L371.38,90.78 L372.11,90.61 L372.84,90.45 L373.57,90.28 L374.31,90.12 L375.06,89.96 L375.80,89.81 L376.56,89.65 L377.32,89.50 L378.08,89.34 L378.85,89.19 L379.62,89.04 L380.40,88.89 L381.18,88.75 L381.97,88.60 L382.77,88.46 L383.56,88.32 L384.37,88.18 L385.18,88.04 L385.99,87.90 L386.81,87.76 L387.63,87.63 L388.46,87.49 L389.29,87.36 L390.13,87.23 L390.98,87.10 L391.83,86.97 L392.68,86.85 L393.54,86.72 L394.41,86.60 L395.28,86.47 L396.15,86.35 L397.03,86.23 L397.92,86.11 L398.81,85.99 L399.71,85.87 L400.61,85.76 L401.51,85.64 L402.43,85.53 L403.34,85.42 L404.27,85.31 L405.20,85.19 L406.13,85.09 L407.07,84.98 L408.01,84.87 L408.96,84.76 L409.92,84.66 L410.88,84.55 L411.85,84.45 L412.82,84.35 L413.80,84.25 L414.78,84.15 L415.77,84.05 L416.77,83.95 L417.77,83.85 L418.77,83.76 L419.78,83.66 L420.80,83.57 L421.82,83.47 L422.85,83.38 L423.89,83.29 L424.93,83.20 L425.97,83.11 L427.02,83.02 L428.08,82.93 L429.14,82.84 L430.21,82.76 L431.29,82.67 L432.37,82.59 L433.45,82.50 L434.54,82.42 L435.64,82.33 L436.75,82.25 L437.86,82.17 L438.97,82.09 L440.09,82.01 L441.22,81.93 L442.35,81.85 L443.49,81.78 L444.64,81.70 L445.79,81.62 L446.95,81.55 L448.11,81.47 L449.28,81.40 L450.46,81.33 L451.64,81.25 L452.83,81.18 L454.02,81.11 L455.22,81.04 L456.43,80.97 L457.64,80.90 L458.86,80.83 L460.08,80.76 L461.31,80.70 L462.55,80.63 L463.79,80.56 L465.04,80.50 L466.30,80.43" fill="none" stroke="#55dd55" stroke-width="1.2" stroke-dasharray="7 3.5"/>
<path d="M298.41,211.62 L298.41,211.62 L298.41,211.62 L298.41,211.62 L298.41,211.62 L298.41,211.61 L298.41,211.61 L298.41,211.61 L298.41,211.60 L298.41,211.60 L298.41,211.59 L298.41,211.58 L298.41,211.57 L298.41,211.55 L298.41,211.54 L298.42,211.52 L298.42,211.50 L298.42,211.47 L298.42,211.45 L298.42,211.42 L298.43,211.38 L298.43,211.35 L298.43,211.31 L298.44,211.26 L298.44,211.21 L298.45,211.16 L298.45,211.10 L298.46,211.04 L298.46,210.98 L298.47,210.91 L298.48,210.83 L298.48,210.75 L298.49,210.66 L298.50,210.57 L298.51,210.48 L298.52,210.37 L298.53,210.26 L298.54,210.15 L298.55,210.03 L298.56,209.90 L298.57,209.77 L298.59,209.63 L298.60,209.48 L298.62,209.33 L298.63,209.17 L298.65,209.00 L298.66,208.82 L298.68,208.64 L298.70,208.45 L298.72,208.25 L298.73,208.05 L298.75,207.83 L298.78,207.61 L298.80,207.39 L298.82,207.15 L298.84,206.90 L298.87,206.65 L298.89,206.39 L298.92,206.12 L298.95,205.84 L298.97,205.56 L299.00,205.26 L299.03,204.96 L299.06,204.65 L299.09,204.33 L299.13,204.00 L299.16,203.66 L299.20,203.31 L299.23,202.96 L299.27,202.59 L299.31,202.22 L299.35,201.84 L299.39,201.45 L299.43,201.05 L299.47,200.65 L299.51,200.23 L299.56,199.81 L299.60,199.37 L299.65,198.93 L299.70,198.48 L299.75,198.02 L299.80,197.56 L299.85,197.08 L299.91,196.60 L299.96,196.11 L300.02,195.61 L300.08,195.10 L300.13,194.59 L300.19,194.06 L300.26,193.53 L300.32,193.00 L300.38,192.45 L300.45,191.90 L300.52,191.34 L300.59,190.77 L300.66,190.20 L300.73,189.62 L300.80,189.03 L300.88,188.44 L300.95,187.84 L301.03,187.23 L301.11,186.62 L301.19,186.00 L301.27,185.37 L301.36,184.75 L301.44,184.11 L301.53,183.47 L301.62,182.82 L301.71,182.17 L301.80,181.52 L301.90,180.86 L301.99,180.19 L302.09,179.53 L302.19,178.85 L302.29,178.18 L302.40,177.50 L302.50,176.81 L302.61,176.12 L302.72,175.43 L302.83,174.74 L302.94,174.04 L303.05,173.35 L303.17,172.64 L303.29,171.94 L303.41,171.23 L303.53,170.53 L303.65,169.82 L303.78,169.11 L303.91,168.39 L304.04,167.68 L304.17,166.97 L304.30,166.25 L304.44,165.53 L304.58,164.82 L304.72,164.10 L304.86,163.38 L305.01,162.66 L305.15,161.95 L305.30,161.23 L305.45,160.51 L305.61,159.79 L305.76,159.08 L305.92,158.36 L306.08,157.65 L306.24,156.94 L306.40,156.22 L306.57,155.51 L306.74,154.80 L306.91,154.10 L307.08,153.39 L307.26,152.69 L307.44,151.99 L307.62,151.29 L307.80,150.59 L307.99,149.89 L308.18,149.20 L308.37,148.51 L308.56,147.82 L308.75,147.14 L308.95,146.45 L309.15,145.77 L309.35,145.10 L309.56,144.43 L309.77,143.76 L309.98,143.09 L310.19,142.42 L310.41,141.76 L310.62,141.11 L310.85,140.45 L311.07,139.81 L311.30,139.16 L311.52,138.52 L311.76,137.88 L311.99,137.24 L312.23,136.61 L312.47,135.99 L312.71,135.36 L312.95,134.74 L313.20,134.13 L313.45,133.52 L313.71,132.91 L313.96,132.31 L314.22,131.71 L314.48,131.12 L314.75,130.53 L315.02,129.94 L315.29,129.36 L315.56,128.78 L315.84,128.21 L316.12,127.64 L316.40,127.08 L316.69,126.52 L316.97,125.96 L317.27,125.41 L317.56,124.86 L317.86,124.32 L318.16,123.78 L318.46,123.25 L318.77,122.72 L319.08,122.20 L319.39,121.68 L319.71,121.16 L320.03,120.65 L320.35,120.14 L320.68,119.64 L321.01,119.14 L321.34,118.65 L321.67,118.16 L322.01,117.67 L322.36,117.19 L322.70,116.71 L323.05,116.24 L323.40,115.77 L323.76,115.31 L324.12,114.85 L324.48,114.40 L324.84,113.94 L325.21,113.50 L325.58,113.05 L325.96,112.62 L326.34,112.18 L326.72,111.75 L327.11,111.32 L327.50,110.90 L327.89,110.48 L328.29,110.07 L328.69,109.66 L329.09,109.25 L329.50,108.85 L329.91,108.45 L330.32,108.06 L330.74,107.67 L331.16,107.28 L331.59,106.90 L332.02,106.52 L332.45,106.14 L332.89,105.77 L333.33,105.40 L333.77,105.04 L334.22,104.68 L334.67,104.32 L335.13,103.96 L335.59,103.61 L336.05,103.27 L336.52,102.92 L336.99,102.58 L337.46,102.25 L337.94,101.92 L338.42,101.59 L338.91,101.26 L339.40,100.94 L339.89,100.62 L340.39,100.30 L340.89,99.99 L341.40,99.68 L341.91,99.37 L342.42,99.07 L342.94,98.77 L343.46,98.47 L343.98,98.17 L344.51,97.88 L345.05,97.59 L345.59,97.31 L346.13,97.02 L346.68,96.75 L347.23,96.47 L347.78,96.19 L348.34,95.92 L348.90,95.65 L349.47,95.39 L350.04,95.13 L350.62,94.87 L351.20,94.61 L351.78,94.35 L352.37,94.10 L352.96,93.85 L353.56,93.60 L354.16,93.36 L354.77,93.12 L355.38,92.88 L355.99,92.64 L356.61,92.40 L357.24,92.17 L357.86,91.94 L358.50,91.71 L359.13,91.49 L359.78,91.27 L360.42,91.05 L361.07,90.83 L361.73,90.61 L362.39,90.40 L363.05,90.19 L363.72,89.98 L364.39,89.77 L365.07,89.56 L365.75,89.36 L366.44,89.16 L367.13,88.96 L367.83,88.76 L368.53,88.57 L369.24,88.37 L369.95,88.18 L370.66,87.99 L371.38,87.81 L372.11,87.62 L372.84,87.44 L373.57,87.26 L374.31,87.08 L375.06,86.90 L375.80,86.72 L376.56,86.55 L377.32,86.37 L378.08,86.20 L378.85,86.03 L379.62,85.87 L380.40,85.70 L381.18,85.54 L381.97,85.37 L382.77,85.21 L383.56,85.05 L384.37,84.90 L385.18,84.74 L385.99,84.59 L386.81,84.43 L387.63,84.28 L388.46,84.13 L389.29,83.98 L390.13,83.84 L390.98,83.69 L391.83,83.55 L392.68,83.40 L393.54,83.26 L394.41,83.12 L395.28,82.98 L396.15,82.85 L397.03,82.71 L397.92,82.58 L398.81,82.44 L399.71,82.31 L400.61,82.18 L401.51,82.05 L402.43,81.92 L403.34,81.80 L404.27,81.67 L405.20,81.55 L406.13,81.42 L407.07,81.30 L408.01,81.18 L408.96,81.06 L409.92,80.94 L410.88,80.82 L411.85,80.71 L412.82,80.59 L413.80,80.48 L414.78,80.37 L415.77,80.25 L416.77,80.14 L417.77,80.03 L418.77,79.92 L419.78,79.82 L420.80,79.71 L421.82,79.60 L422.85,79.50 L423.89,79.40 L424.93,79.29 L425.97,79.19 L427.02,79.09 L428.08,78.99 L429.14,78.89 L430.21,78.79 L431.29,78.70 L432.37,78.60 L433.45,78.51 L434.54,78.41 L435.64,78.32 L436.75,78.23 L437.86,78.13 L438.97,78.04 L440.09,77.95 L441.22,77.86 L442.35,77.77 L443.49,77.69 L444.64,77.60 L445.79,77.51 L446.95,77.43 L448.11,77.34 L449.28,77.26 L450.46,77.18 L451.64,77.10 L452.83,77.01 L454.02,76.93 L455.22,76.85 L456.43,76.77 L457.64,76.70 L458.86,76.62 L460.08,76.54 L461.31,76.46 L462.55,76.39 L463.79,76.31 L465.04,76.24 L466.30,76.17" fill="none" stroke="#dd4444" stroke-width="1.2" stroke-dasharray="7 3.5"/>
<circle cx="297.80" cy="206.21" r="3.3" fill="#22dd22" stroke="#003000" stroke-width="1"/>
<circle cx="301.17" cy="189.98" r="3.3" fill="#22dd22" stroke="#003000" stroke-width="1"/>
<circle cx="304.54" cy="172.53" r="3.3" fill="#22dd22" stroke="#003000" stroke-width="1"/>
<circle cx="307.91" cy="154.60" r="3.3" fill="#22dd22" stroke="#003000" stroke-width="1"/>
<circle cx="311.28" cy="142.27" r="3.3" fill="#22dd22" stroke="#003000" stroke-width="1"/>
<circle cx="314.65" cy="122.38" r="3.3" fill="#22dd22" stroke="#003000" stroke-width="1"/>
<circle cx="323.07" cy="112.32" r="3.3" fill="#22dd22" stroke="#003000" stroke-width="1"/>
<circle cx="331.50" cy="106.23" r="3.3" fill="#22dd22" stroke="#003000" stroke-width="1"/>
<circle cx="365.20" cy="98.77" r="3.3" fill="#22dd22" stroke="#003000" stroke-width="1"/>
<circle cx="398.90" cy="92.44" r="3.3" fill="#22dd22" stroke="#003000" stroke-width="1"/>
<circle cx="432.60" cy="81.89" r="3.3" fill="#22dd22" stroke="#003000" stroke-width="1"/>
<circle cx="466.30" cy="80.67" r="3.3" fill="#22dd22" stroke="#003000" stroke-width="1"/>
<circle cx="297.80" cy="205.40" r="3.7" fill="#ee1111" stroke="#300000" stroke-width="1"/>
<circle cx="301.17" cy="189.17" r="3.7" fill="#ee1111" stroke="#300000" stroke-width="1"/>
<circle cx="304.54" cy="168.88" r="3.7" fill="#ee1111" stroke="#300000" stroke-width="1"/>
<circle cx="307.91" cy="148.35" r="3.7" fill="#ee1111" stroke="#300000" stroke-width="1"/>
<circle cx="311.28" cy="136.18" r="3.7" fill="#ee1111" stroke="#300000" stroke-width="1"/>
<circle cx="314.65" cy="115.73" r="3.7" fill="#ee1111" stroke="#300000" stroke-width="1"/>
<circle cx="323.07" cy="108.83" r="3.7" fill="#ee1111" stroke="#300000" stroke-width="1"/>
<circle cx="331.50" cy="102.83" r="3.7" fill="#ee1111" stroke="#300000" stroke-width="1"/>
<circle cx="365.20" cy="94.14" r="3.7" fill="#ee1111" stroke="#300000" stroke-width="1"/>
<circle cx="398.90" cy="86.92" r="3.7" fill="#ee1111" stroke="#300000" stroke-width="1"/>
<circle cx="432.60" cy="80.19" r="3.7" fill="#ee1111" stroke="#300000" stroke-width="1"/>
<circle cx="466.30" cy="75.15" r="3.7" fill="#ee1111" stroke="#300000" stroke-width="1"/>
</g>
<g clip-path="url(#ca)">
<path d="M80.80,271.28 L88.05,284.90 L73.55,284.90 Z" fill="#c01818" stroke="#3a0000" stroke-width="1.2"/>
<path d="M80.80,276.64 L84.40,282.88 L77.20,282.88 Z" fill="#22e022" stroke="#1a4a10" stroke-width="0.6"/>
<path d="M85.30,272.71 L92.52,285.40 L78.08,285.40 Z" fill="#c01818" stroke="#3a0000" stroke-width="1.2"/>
<path d="M85.30,277.73 L88.89,283.52 L81.71,283.52 Z" fill="#22e022" stroke="#1a4a10" stroke-width="0.6"/>
<path d="M90.20,274.12 L97.36,285.40 L83.04,285.40 Z" fill="#c01818" stroke="#3a0000" stroke-width="1.2"/>
<path d="M90.20,278.60 L93.75,283.75 L86.65,283.75 Z" fill="#22e022" stroke="#1a4a10" stroke-width="0.6"/>
<path d="M99.40,273.21 L106.61,285.80 L92.19,285.80 Z" fill="#c01818" stroke="#3a0000" stroke-width="1.2"/>
<path d="M99.40,278.18 L102.98,283.94 L95.82,283.94 Z" fill="#22e022" stroke="#1a4a10" stroke-width="0.6"/>
<path d="M118.80,271.81 L126.27,284.90 L111.33,284.90 Z" fill="#c01818" stroke="#3a0000" stroke-width="1.2"/>
<path d="M118.80,276.98 L122.51,282.96 L115.09,282.96 Z" fill="#22e022" stroke="#1a4a10" stroke-width="0.6"/>
<path d="M128.50,270.29 L135.95,283.00 L121.05,283.00 Z" fill="#c01818" stroke="#3a0000" stroke-width="1.2"/>
<path d="M128.50,275.31 L132.20,281.12 L124.80,281.12 Z" fill="#22e022" stroke="#1a4a10" stroke-width="0.6"/>
<path d="M153.00,268.43 L160.62,282.00 L145.38,282.00 Z" fill="#c01818" stroke="#3a0000" stroke-width="1.2"/>
<path d="M153.00,273.78 L156.79,279.99 L149.21,279.99 Z" fill="#22e022" stroke="#1a4a10" stroke-width="0.6"/>
<path d="M177.50,267.92 L184.87,281.00 L170.13,281.00 Z" fill="#c01818" stroke="#3a0000" stroke-width="1.2"/>
<path d="M177.50,273.09 L181.16,279.06 L173.84,279.06 Z" fill="#22e022" stroke="#1a4a10" stroke-width="0.6"/>
<path d="M274.50,267.32 L282.12,280.80 L266.88,280.80 Z" fill="#c01818" stroke="#3a0000" stroke-width="1.2"/>
<path d="M274.50,272.64 L278.29,278.80 L270.71,278.80 Z" fill="#22e022" stroke="#1a4a10" stroke-width="0.6"/>
<path d="M372.00,266.68 L379.70,279.70 L364.30,279.70 Z" fill="#c01818" stroke="#3a0000" stroke-width="1.2"/>
<path d="M372.00,271.83 L375.83,277.78 L368.17,277.78 Z" fill="#22e022" stroke="#1a4a10" stroke-width="0.6"/>
<path d="M469.40,265.42 L477.02,278.90 L461.78,278.90 Z" fill="#c01818" stroke="#3a0000" stroke-width="1.2"/>
<path d="M469.40,270.74 L473.19,276.90 L465.61,276.90 Z" fill="#22e022" stroke="#1a4a10" stroke-width="0.6"/>
</g>
<line x1="62" y1="284.40" x2="71" y2="284.40" stroke="#000" stroke-width="3.2" stroke-linecap="round"/>
<line x1="62" y1="211.60" x2="71" y2="211.60" stroke="#000" stroke-width="3.2" stroke-linecap="round"/>
<line x1="62" y1="138.80" x2="71" y2="138.80" stroke="#000" stroke-width="3.2" stroke-linecap="round"/>
<line x1="62" y1="66.00" x2="71" y2="66.00" stroke="#000" stroke-width="3.2" stroke-linecap="round"/>
<line x1="62.3" y1="628.10" x2="72" y2="628.10" stroke="#000" stroke-width="3.2" stroke-linecap="round"/>
<line x1="62.3" y1="549.68" x2="72" y2="549.68" stroke="#000" stroke-width="3.2" stroke-linecap="round"/>
<line x1="62.3" y1="471.26" x2="72" y2="471.26" stroke="#000" stroke-width="3.2" stroke-linecap="round"/>
<line x1="62.3" y1="392.84" x2="72" y2="392.84" stroke="#000" stroke-width="3.2" stroke-linecap="round"/>
<line x1="62.3" y1="314.42" x2="72" y2="314.42" stroke="#000" stroke-width="3.2" stroke-linecap="round"/>
<line x1="80.80" y1="629.5" x2="80.80" y2="637" stroke="#000" stroke-width="3.6" stroke-linecap="round"/>
<line x1="178.02" y1="629.5" x2="178.02" y2="637" stroke="#000" stroke-width="3.6" stroke-linecap="round"/>
<line x1="275.24" y1="629.5" x2="275.24" y2="637" stroke="#000" stroke-width="3.6" stroke-linecap="round"/>
<line x1="372.46" y1="629.5" x2="372.46" y2="637" stroke="#000" stroke-width="3.6" stroke-linecap="round"/>
<line x1="469.68" y1="629.5" x2="469.68" y2="637" stroke="#000" stroke-width="3.6" stroke-linecap="round"/>
<text x="50.5" y="291.40" text-anchor="end" font-size="19.5">0</text>
<text x="50.5" y="218.60" text-anchor="end" font-size="19.5">50</text>
<text x="50.5" y="145.80" text-anchor="end" font-size="19.5">100</text>
<text x="50.5" y="73.00" text-anchor="end" font-size="19.5">150</text>
<text x="51.5" y="635.10" text-anchor="end" font-size="19.5">0</text>
<text x="51.5" y="556.68" text-anchor="end" font-size="19.5">2</text>
<text x="51.5" y="478.26" text-anchor="end" font-size="19.5">4</text>
<text x="51.5" y="399.84" text-anchor="end" font-size="19.5">6</text>
<text x="51.5" y="321.42" text-anchor="end" font-size="19.5">8</text>
<text x="80.80" y="663.5" text-anchor="middle" font-size="19.5">0</text>
<text x="178.02" y="663.5" text-anchor="middle" font-size="19.5">100</text>
<text x="275.24" y="663.5" text-anchor="middle" font-size="19.5">200</text>
<text x="372.46" y="663.5" text-anchor="middle" font-size="19.5">300</text>
<text x="469.68" y="663.5" text-anchor="middle" font-size="19.5">400</text>
<text x="106.6" y="26" text-anchor="middle" font-size="25.8" font-weight="bold">A</text>
<text x="106.3" y="362.9" text-anchor="middle" font-size="25.2" font-weight="bold">B</text>
<text transform="translate(12.8,144.9) rotate(-90) scale(1.10,1)" text-anchor="middle" font-size="14.2" font-weight="bold">nM IIa/second</text>
<text transform="translate(33.2,468.3) rotate(-90) scale(1.10,1)" text-anchor="middle" font-size="15" font-weight="bold">pM IIa/second</text>
<text x="253.6" y="683.6" font-size="14.9" font-weight="bold">[C6PS]</text>
<text x="305.6" y="683.6" font-size="15.4" font-family="Liberation Serif">(μM)</text>
</svg>
</body></html>
